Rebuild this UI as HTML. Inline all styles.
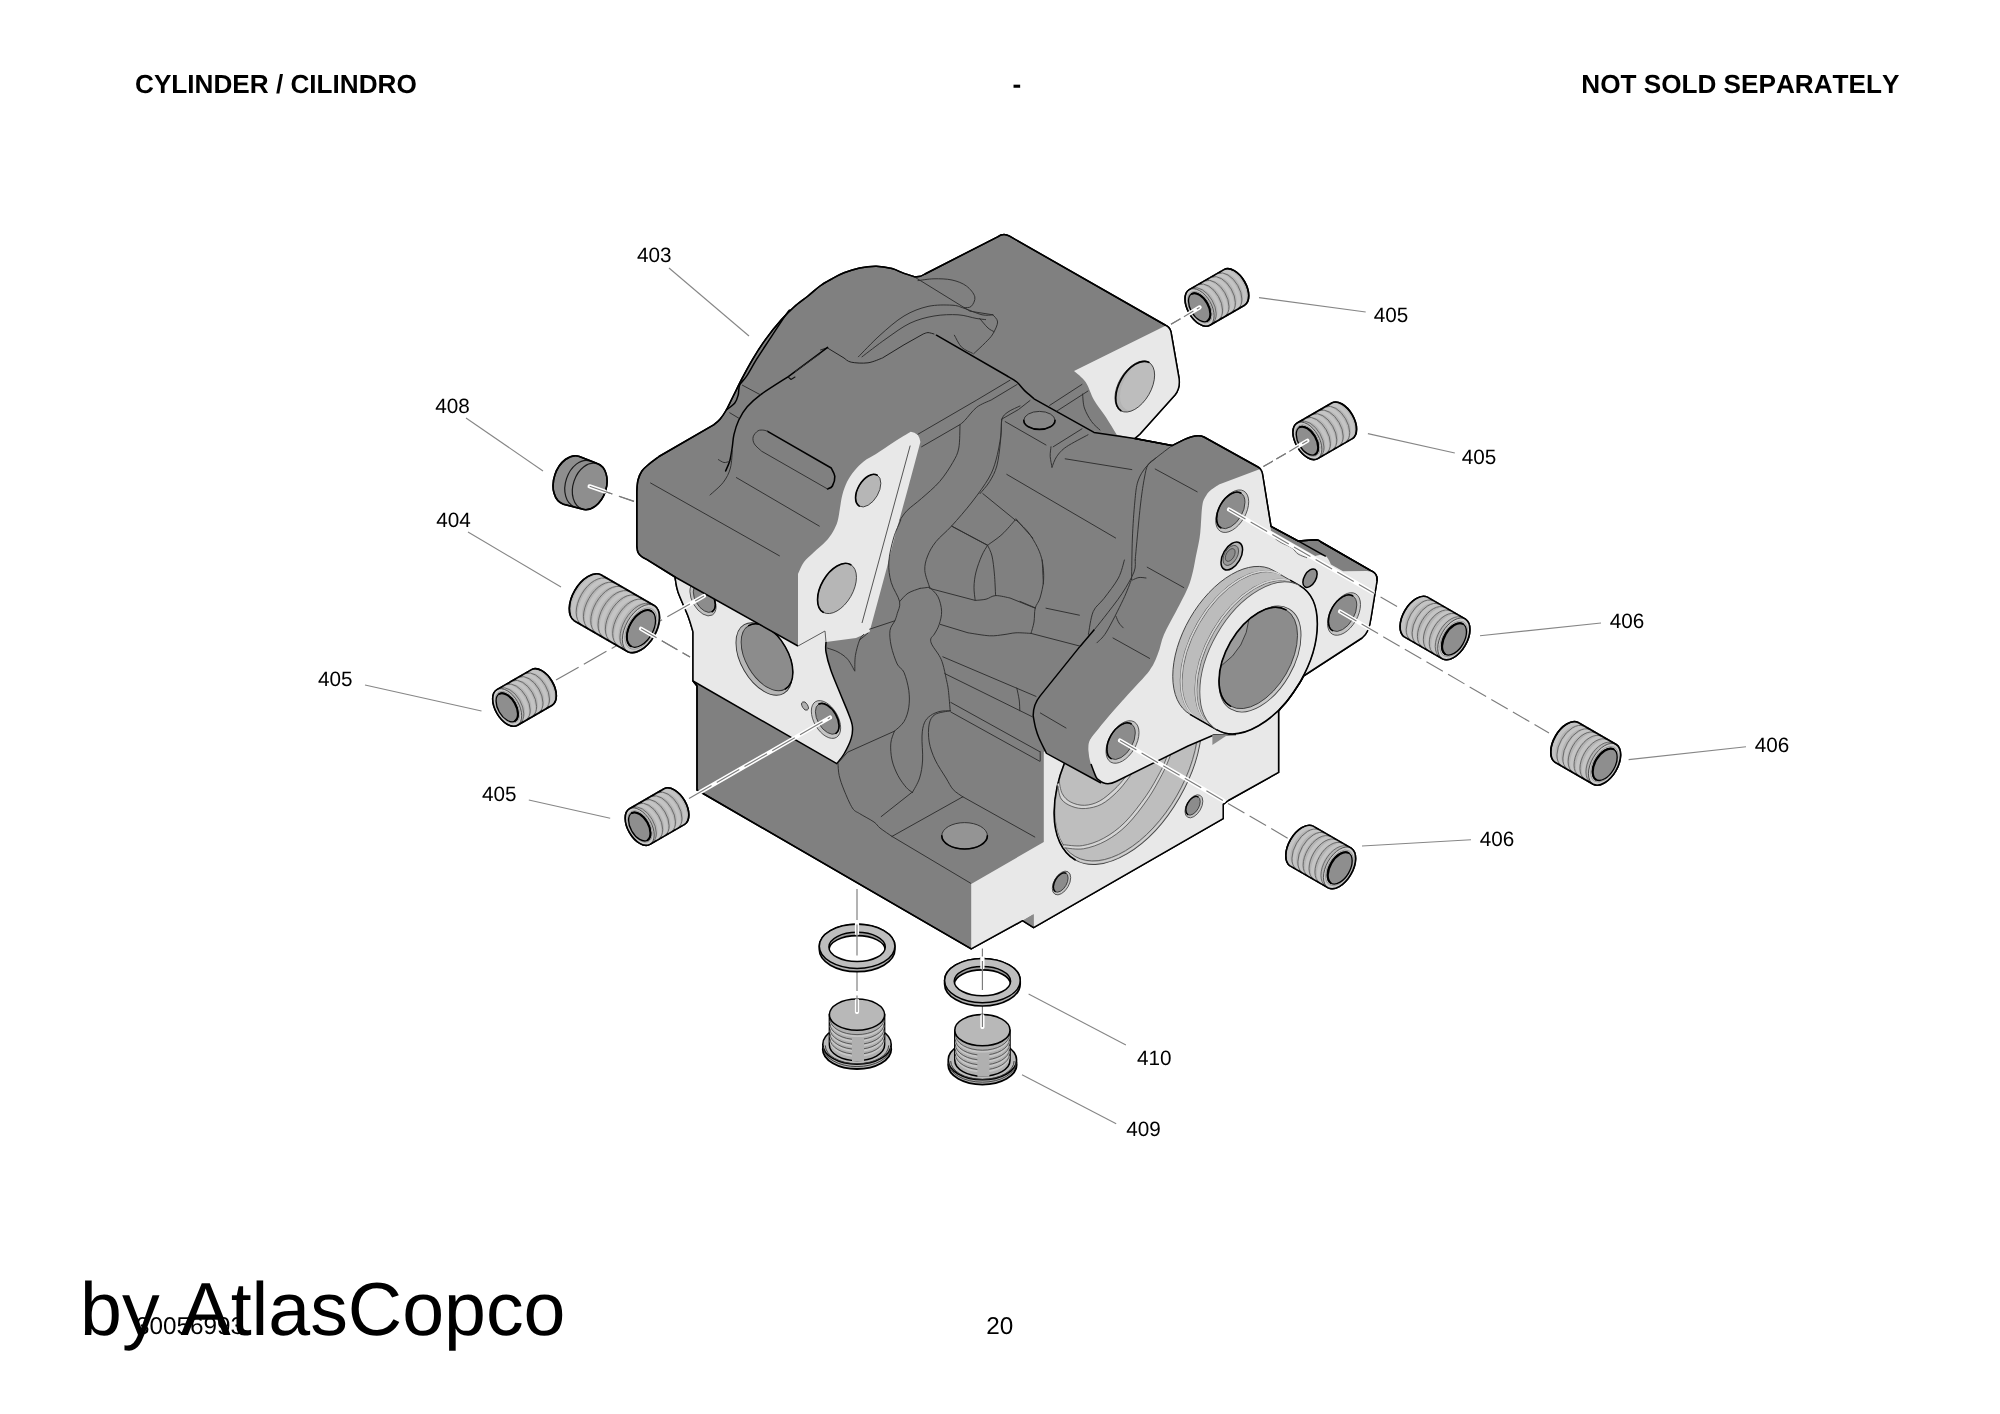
<!DOCTYPE html>
<html lang="en"><head><meta charset="utf-8"><title>CYLINDER / CILINDRO</title>
<style>
html,body{margin:0;padding:0;background:#fff;}
html{filter:grayscale(1);}
body{width:2000px;height:1414px;overflow:hidden;font-family:"Liberation Sans",sans-serif;font-kerning:none;font-feature-settings:"kern" 0;text-rendering:geometricPrecision;}
svg{display:block;position:absolute;left:0;top:0;}
svg text{font-family:"Liberation Sans",sans-serif;font-kerning:none;}
.hd{position:absolute;font-weight:bold;font-size:26.15px;line-height:30px;color:#000;white-space:nowrap;}
.ft{position:absolute;font-size:24.3px;line-height:28px;color:#000;white-space:nowrap;}
.big{position:absolute;font-size:75.3px;line-height:86px;color:#000;white-space:nowrap;}
</style></head><body>
<svg width="2000" height="1414" viewBox="0 0 2000 1414">
<rect width="2000" height="1414" fill="#fff"/>
<path d="M997.6,236.8 Q1003.6,232.6 1009.6,236.2 L1166,325.5 Q1170,327.5 1171,332 L1179,378 Q1180.5,388 1175,395 L1140,434 L1135,438.4 L1172,445.6 L1184,439.6 Q1197,433.5 1204,437 L1258,467 Q1261.5,469 1262.5,474 L1271,526.3 L1298,540.9 L1316,539.8 Q1319,540 1321,542 L1370,570.1 Q1378,573 1377,581 L1371,618 Q1369,633 1362,638 L1303.5,676 C1303,677 1302.9,678 1300.3,682 C1297.7,686 1291.2,695.6 1288.1,699.8 C1285,704 1283.2,705.4 1281.6,707.3 C1280,709.2 1279.1,710.4 1278.6,711 L1278.6,772.4 L1228.3,800.5 L1223.2,804.4 L1223.2,818.6 L1033.6,927.7 L1022.5,920.7 L971.2,948.9 L697,790 L697,686 L693,681 L693,632 C692.2,629.3 690.5,622.7 688,616 C685.5,609.3 680.2,598.5 678,592 C675.8,585.5 675.5,579.5 675,577 L647,559.6 C646.1,559.1 643,557.7 641.5,556.5 C640,555.3 638.8,554.2 638,552.5 C637.2,550.8 637,547.1 636.8,546 L636.8,491.3 C637,489.4 637.1,483.4 638,480 C638.9,476.6 640.2,473.5 641.9,471 C643.6,468.5 645.1,467.4 648,465 C650.9,462.6 657.2,457.9 659,456.5 L713.6,424.8 C714.7,423.9 717.9,421.7 720,419.2 C722.1,416.7 724.2,413.7 726.3,410 C728.4,406.3 730.2,402.1 732.8,397 C735.4,391.9 738.4,385.5 741.7,379.2 C745,372.9 748.7,366 752.6,359.4 C756.5,352.8 760.6,346.2 765.4,339.6 C770.2,333 776.5,325.2 781.3,319.8 C786.1,314.4 789.5,311 794,307 C798.5,303 803.7,299.5 808,296 C812.3,292.5 816,288.9 820,286 C824,283.1 828,281 832,278.8 C836,276.6 839.4,274.6 844,272.8 C848.6,271 854.2,269.1 859.6,268 C865,266.9 871,266.1 876.4,266.2 C881.8,266.3 887.4,267.4 892,268.6 C896.6,269.8 900.4,272.1 904,273.4 C907.6,274.7 912,275.9 913.6,276.4 Q920,277.5 925,274 Z" fill="#808080" stroke="#000" stroke-width="1.5" stroke-linejoin="round"/>
<path d="M1043.8,752 L1043.8,842 L971.2,884 L971.2,948.9 L1022.5,920.7 L1033.6,914.2 L1033.6,927.7 L1223.2,818.6 L1223.2,804.4 L1228.3,800.5 L1278.6,772.4 L1278.6,700 L1100,700 Z" fill="#e8e8e8" stroke="none" stroke-width="0" />
<path d="M1022.5,920.7 L1033.6,914.2 L1033.6,927.7 Z" fill="#8a8a8a" stroke="none" stroke-width="0" />
<clipPath id="cF5"><path d="M1043.8,752 L1043.8,842 L971.2,884 L971.2,948.9 L1022.5,920.7 L1033.6,914.2 L1033.6,927.7 L1223.2,818.6 L1223.2,804.4 L1228.3,800.5 L1278.6,772.4 L1278.6,700 L1100,700 Z"/></clipPath>
<g clip-path="url(#cF5)">
<ellipse cx="1128" cy="768" rx="106" ry="59.4" transform="rotate(-60 1128 768)" fill="#bebebe" stroke="#444" stroke-width="0.9" />
<ellipse cx="1126.6" cy="767.2" rx="103" ry="57.7" transform="rotate(-60 1126.6 767.2)" fill="none" stroke="#555" stroke-width="0.8" />
<ellipse cx="1127.3" cy="767.6" rx="104.5" ry="58.5" transform="rotate(-60 1127.3 767.6)" fill="none" stroke="#d2d2d2" stroke-width="1.2" />
<path d="M1181,676.2 A106,59.4 -60 0 0 1075,859.8" fill="none" stroke="#000" stroke-width="1.6" stroke-linecap="round"/>
<path d="M1058.5,783.5 C1059.1,785.6 1059.6,792.9 1061.8,796.4 C1063.9,799.8 1067.4,802.5 1071.3,804.2 C1075.2,806 1080.2,807.2 1085.1,806.9 C1090,806.6 1095.4,805.4 1100.5,802.7 C1105.5,800.1 1111,795.1 1115.3,791 C1119.7,786.9 1123.3,782.3 1126.5,778.2 C1129.7,774.2 1133.2,768.5 1134.5,766.5" fill="none" stroke="#d4d4d4" stroke-width="2.6" />
<path d="M1059.1,780.9 C1059.6,783 1060.3,790.2 1062.3,793.7 C1064.2,797.2 1067.1,800.2 1070.8,802.1 C1074.5,804 1079.8,805.5 1084.6,805.3 C1089.4,805.1 1094.5,803.8 1099.4,801.1 C1104.4,798.5 1110,793.3 1114.3,789.4 C1118.5,785.5 1121.8,781.6 1124.9,777.7 C1128,773.8 1131.7,768 1133,766" fill="none" stroke="#555" stroke-width="0.85" />
<path d="M1058,786 C1058.5,788.2 1058.9,795.6 1061.2,799 C1063.5,802.4 1067.7,804.8 1071.8,806.4 C1075.9,808 1080.6,808.9 1085.6,808.5 C1090.5,808.1 1096.4,806.9 1101.5,804.3 C1106.6,801.6 1112,796.9 1116.4,792.6 C1120.8,788.4 1124.8,783.1 1128.1,778.8 C1131.4,774.5 1134.7,769 1136,767" fill="none" stroke="#555" stroke-width="0.85" />
<path d="M1063.6,846.2 C1066.8,846.4 1076.1,848.3 1083,847.2 C1089.8,846.1 1097.6,843.5 1104.8,839.5 C1111.9,835.6 1118.9,830.7 1126,823.6 C1133,816.6 1141.3,805.5 1147.2,797.1 C1153,788.7 1157.5,779.9 1161,773.5 C1164.4,767.1 1165.5,764.2 1167.6,758.9 C1169.6,753.7 1172.5,744.8 1173.5,742" fill="none" stroke="#d4d4d4" stroke-width="2.6" />
<path d="M1062.8,844.6 C1066.1,844.8 1075.6,846.7 1082.4,845.6 C1089.2,844.5 1096.6,842.1 1103.7,838.2 C1110.8,834.3 1117.8,829.4 1124.9,822.3 C1132,815.2 1140.3,804.1 1146.1,795.8 C1151.9,787.5 1156.6,778.6 1159.9,772.4 C1163.2,766.2 1164.2,763.7 1166.2,758.6 C1168.2,753.5 1171,744.8 1172,742" fill="none" stroke="#555" stroke-width="0.85" />
<path d="M1064.4,847.8 C1067.6,848 1076.6,849.9 1083.5,848.8 C1090.4,847.6 1098.5,844.9 1105.8,840.9 C1113,836.9 1119.9,832.1 1127,825 C1134.1,817.9 1142.4,806.8 1148.2,798.4 C1154,790 1158.5,781.1 1162,774.6 C1165.5,768.1 1166.7,764.6 1168.9,759.2 C1171.1,753.8 1174,744.9 1175,742" fill="none" stroke="#555" stroke-width="0.85" />
</g>
<ellipse cx="1193.9" cy="806.3" rx="12.6" ry="7.3" transform="rotate(-60 1193.9 806.3)" fill="#c4c4c4" stroke="#444" stroke-width="0.8" />
<ellipse cx="1192.9" cy="805.7" rx="10.3" ry="6" transform="rotate(-60 1192.9 805.7)" fill="#8c8c8c" stroke="#333" stroke-width="0.8" />
<path d="M1198,796.8 A10.3,6 -60 0 0 1187.7,814.6" fill="none" stroke="#000" stroke-width="1.3" stroke-linecap="round"/>
<ellipse cx="1061.5" cy="883" rx="13" ry="7.5" transform="rotate(-60 1061.5 883)" fill="#c4c4c4" stroke="#444" stroke-width="0.8" />
<ellipse cx="1060.5" cy="882.4" rx="10.7" ry="6.2" transform="rotate(-60 1060.5 882.4)" fill="#8c8c8c" stroke="#333" stroke-width="0.8" />
<path d="M1065.8,873.2 A10.7,6.2 -60 0 0 1055.1,891.6" fill="none" stroke="#000" stroke-width="1.3" stroke-linecap="round"/>
<path d="M1094.4,629.6 L1080,646.4 L1040.4,695.6 Q1033,704.5 1033.2,716 C1033.6,718 1034.6,724.3 1035.6,728 C1036.6,731.7 1037.2,733.8 1039,738 C1040.8,742.2 1045.2,750.8 1046.4,753.3 L1101,783 L1103,784 L1096,777 L1091,764 L1088.5,750 L1090,740 L1099.2,728 L1111.2,713.6 L1128,694.4 L1149.6,670.4 L1158,653.6 L1164,634.4 L1176,611.6 Z" fill="#808080" stroke="none" stroke-width="1.0" />
<path d="M1094.4,629.6 L1080,646.4 L1040.4,695.6 Q1033,704.5 1033.2,716 C1033.6,718 1034.6,724.3 1035.6,728 C1036.6,731.7 1037.2,733.8 1039,738 C1040.8,742.2 1045.2,750.8 1046.4,753.3 L1101,783" fill="none" stroke="#000" stroke-width="1.5" />
<path d="M1261.5,468.5 L1263,480 L1271,530.8 L1315.3,555.9 C1316.1,555.8 1318.2,554.9 1320,555 C1321.8,555.1 1324.3,555.5 1325.8,556.3 C1327.3,557.1 1327.9,558.6 1328.8,560 C1329.7,561.4 1330.6,563.8 1331,564.5 L1343,571.3 L1367,570.9 Q1377.5,571.5 1377,581 L1371,618 Q1369,633 1362,638 L1304,676 L1262,722 L1213.8,735 L1188,746 L1116,781.5 Q1106,786.5 1099,780 C1097.7,777.3 1092.8,769 1091,764 C1089.2,759 1088.7,754 1088.5,750 C1088.3,746 1088.2,743.7 1090,740 C1091.8,736.3 1095.7,732.4 1099.2,728 C1102.7,723.6 1106.4,719.2 1111.2,713.6 C1116,708 1121.6,701.6 1128,694.4 C1134.4,687.2 1144.6,677.2 1149.6,670.4 C1154.6,663.6 1155.6,659.6 1158,653.6 C1160.4,647.6 1161,641.4 1164,634.4 C1167,627.4 1172,619.4 1176,611.6 C1180,603.8 1185.2,594.2 1188,587.6 C1190.8,581 1191.6,576.6 1192.8,572 C1194,567.4 1194.1,565.7 1195.2,560 C1196.3,554.3 1198.7,543.7 1199.6,538 C1200.5,532.3 1200.3,531.6 1200.8,526 C1201.3,520.4 1201.5,509.6 1202.5,504.4 C1203.5,499.2 1205,497.5 1206.5,495 C1208,492.5 1209.4,491.3 1211.5,489.5 C1213.6,487.7 1217.8,485.2 1219,484.4 L1219,484.4 Z" fill="#e8e8e8" stroke="none" stroke-width="0" />
<path d="M1091,764 C1091.8,766.2 1094.7,774.3 1096,777 C1097.3,779.7 1098.5,779.5 1099,780 Q1106,786.5 1116,781.5 L1188,746 L1213.8,735 L1236,734.5" fill="none" stroke="#000" stroke-width="1.5" stroke-linejoin="round"/>
<path d="M1212.4,735 L1229,734 L1212.4,745 Z" fill="#8c8c8c" stroke="none" stroke-width="0" />
<path d="M1271,526.3 L1298,540.9 L1316,539.8 Q1319,540 1321,542 L1370,570.1 Q1378,573 1377,581" fill="none" stroke="#000" stroke-width="1.5" />
<path d="M1298,540.9 L1325.8,556.3" fill="none" stroke="#000" stroke-width="1.5" />
<path d="M1275.5,539 C1276.5,539.6 1278.8,541.3 1281.5,542.8 C1284.2,544.3 1289.2,546.1 1292,548 C1294.8,549.9 1295.5,552.4 1298,554 C1300.5,555.6 1305.5,557.2 1307,557.8" fill="none" stroke="#666" stroke-width="1" />
<ellipse cx="1232.2" cy="511.2" rx="23.3" ry="13.5" transform="rotate(-60 1232.2 511.2)" fill="#c4c4c4" stroke="#444" stroke-width="0.8" />
<ellipse cx="1230.8" cy="510.4" rx="20" ry="11.6" transform="rotate(-60 1230.8 510.4)" fill="#8c8c8c" stroke="#333" stroke-width="0.8" />
<path d="M1240.8,493 A20,11.6 -60 0 0 1220.8,527.8" fill="none" stroke="#000" stroke-width="1.6" stroke-linecap="round"/>
<ellipse cx="1344" cy="614" rx="23.3" ry="13.5" transform="rotate(-60 1344 614)" fill="#c4c4c4" stroke="#444" stroke-width="0.8" />
<ellipse cx="1342.6" cy="613.2" rx="20" ry="11.6" transform="rotate(-60 1342.6 613.2)" fill="#8c8c8c" stroke="#333" stroke-width="0.8" />
<path d="M1352.6,595.8 A20,11.6 -60 0 0 1332.6,630.6" fill="none" stroke="#000" stroke-width="1.6" stroke-linecap="round"/>
<ellipse cx="1122.5" cy="742" rx="23.3" ry="13.5" transform="rotate(-60 1122.5 742)" fill="#c4c4c4" stroke="#444" stroke-width="0.8" />
<ellipse cx="1121.1" cy="741.2" rx="20" ry="11.6" transform="rotate(-60 1121.1 741.2)" fill="#8c8c8c" stroke="#333" stroke-width="0.8" />
<path d="M1131.1,723.8 A20,11.6 -60 0 0 1111.1,758.6" fill="none" stroke="#000" stroke-width="1.6" stroke-linecap="round"/>
<ellipse cx="1231.8" cy="556" rx="15.3" ry="8.8" transform="rotate(-60 1231.8 556)" fill="#b4b4b4" stroke="#000" stroke-width="1.5" />
<ellipse cx="1230.8" cy="555.4" rx="11" ry="6.4" transform="rotate(-60 1230.8 555.4)" fill="#9a9a9a" stroke="#444" stroke-width="0.8" />
<ellipse cx="1230.2" cy="555" rx="7" ry="4" transform="rotate(-60 1230.2 555)" fill="#8c8c8c" stroke="#444" stroke-width="0.8" />
<ellipse cx="1310" cy="578.2" rx="10.1" ry="5.8" transform="rotate(-60 1310 578.2)" fill="#8e8e8e" stroke="#000" stroke-width="1.5" />
<path d="M1300.1,585.9 L1273.1,570.3 A83.1,48 -60 0 0 1190,714.3 L1217,729.9 Z" fill="#bcbcbc" stroke="#444" stroke-width="1" />
<path d="M1279.8,574.2 A83.1,48 -60 0 0 1196.7,718.1" fill="none" stroke="#555" stroke-width="0.8" />
<path d="M1281.5,575.2 A83.1,48 -60 0 0 1198.4,719.1" fill="none" stroke="#555" stroke-width="0.8" />
<path d="M1294.5,582.7 A83.1,48 -60 0 0 1211.4,726.6" fill="none" stroke="#555" stroke-width="0.8" />
<path d="M1296.3,583.7 A83.1,48 -60 0 0 1213.2,727.6" fill="none" stroke="#555" stroke-width="0.8" />
<path d="M1280.7,574.7 A83.1,48 -60 0 0 1197.6,718.6" fill="none" stroke="#d4d4d4" stroke-width="1.4" />
<path d="M1295.4,583.2 A83.1,48 -60 0 0 1212.3,727.1" fill="none" stroke="#d4d4d4" stroke-width="1.4" />
<path d="M1190,714.3 L1217,729.9" fill="none" stroke="#000" stroke-width="1.5" />
<path d="M1290.1,580.1 L1300.1,585.9" fill="none" stroke="#000" stroke-width="1.5" />
<ellipse cx="1258.6" cy="657.9" rx="83.1" ry="48" transform="rotate(-60 1258.6 657.9)" fill="#e8e8e8" stroke="#555" stroke-width="0.9" />
<path d="M1300.1,585.9 A83.1,48 -60 0 1 1217,729.9" fill="none" stroke="#000" stroke-width="1.6" stroke-linecap="round"/>
<ellipse cx="1260" cy="659" rx="58" ry="33.5" transform="rotate(-60 1260 659)" fill="#c8c8c8" stroke="#444" stroke-width="0.9" />
<clipPath id="cbore"><ellipse cx="1258.3" cy="658" rx="55.5" ry="32" transform="rotate(-60 1258.3 658)"/></clipPath>
<ellipse cx="1258.3" cy="658" rx="55.5" ry="32" transform="rotate(-60 1258.3 658)" fill="#8c8c8c" stroke="#333" stroke-width="0.8" />
<g clip-path="url(#cbore)">
<path d="M1249.1,618.6 Q1245.9,648 1221.9,665.3 L1190,665 L1190,590 L1249,590 Z" fill="#9c9c9c" stroke="#333" stroke-width="0.9" />
</g>
<path d="M1286,609.9 A55.5,32 -60 0 0 1230.5,706.1" fill="none" stroke="#000" stroke-width="1.6" stroke-linecap="round"/>
<path d="M1074,371 L1166,325.5 Q1170,327.5 1171,332 L1179,378 Q1180.5,388 1175,395 L1140,434 L1135,438.4 L1116.8,434.8 C1114.8,431.6 1108.6,421.4 1104.8,415.6 C1101,409.8 1097.2,405.6 1094,400 C1090.8,394.4 1088.9,386.8 1085.6,382 C1082.3,377.2 1075.9,372.8 1074,371 Z" fill="#e8e8e8" stroke="none" stroke-width="0" />
<ellipse cx="1134.8" cy="386.5" rx="28" ry="16.2" transform="rotate(-60 1134.8 386.5)" fill="#b4b4b4" stroke="none" stroke-width="0" />
<clipPath id="cF1h"><ellipse cx="1134.8" cy="386.5" rx="28" ry="16.2" transform="rotate(-60 1134.8 386.5)"/></clipPath>
<g clip-path="url(#cF1h)">
<ellipse cx="1139.8" cy="385" rx="28" ry="16.2" transform="rotate(-60 1139.8 385)" fill="#bdbdbd" stroke="none" stroke-width="0" />
</g>
<ellipse cx="1134.8" cy="386.5" rx="28" ry="16.2" transform="rotate(-60 1134.8 386.5)" fill="none" stroke="#333" stroke-width="0.8" />
<path d="M1148.8,362.3 A28,16.2 -60 0 0 1120.8,410.7" fill="none" stroke="#000" stroke-width="1.6" stroke-linecap="round"/>
<path d="M675,577 C675.5,579.5 675.8,585.5 678,592 C680.2,598.5 685.5,609.3 688,616 C690.5,622.7 692.2,629.3 693,632 L693,681 L836.8,763.6 C838,762 841.6,758.2 844,754 C846.4,749.8 849.8,743 851.2,738.4 C852.6,733.8 852.8,730.4 852.4,726.4 C852,722.4 850.8,719.8 848.8,714.4 C846.8,709 843.4,701.4 840.4,694 C837.4,686.6 833.2,677 830.8,670 C828.4,663 826.8,656.7 826,652 C825.2,647.3 826,643.7 826,642 L825,631 L798,646 Z" fill="#e8e8e8" stroke="none" stroke-width="0" />
<clipPath id="cF3"><path d="M675,577 C675.5,579.5 675.8,585.5 678,592 C680.2,598.5 685.5,609.3 688,616 C690.5,622.7 692.2,629.3 693,632 L693,681 L836.8,763.6 C838,762 841.6,758.2 844,754 C846.4,749.8 849.8,743 851.2,738.4 C852.6,733.8 852.8,730.4 852.4,726.4 C852,722.4 850.8,719.8 848.8,714.4 C846.8,709 843.4,701.4 840.4,694 C837.4,686.6 833.2,677 830.8,670 C828.4,663 826.8,656.7 826,652 C825.2,647.3 826,643.7 826,642 L825,631 L798,646 Z"/></clipPath>
<g clip-path="url(#cF3)">
<ellipse cx="703" cy="599" rx="18.5" ry="10.7" transform="rotate(60 703 599)" fill="#c0c0c0" stroke="#444" stroke-width="0.8" />
<ellipse cx="704.3" cy="598.2" rx="15.5" ry="9" transform="rotate(60 704.3 598.2)" fill="#8c8c8c" stroke="#333" stroke-width="0.8" />
<path d="M712.1,611.7 A15.5,9 60 0 0 696.5,584.8" fill="none" stroke="#000" stroke-width="1.6" stroke-linecap="round"/>
<ellipse cx="764" cy="659" rx="39.6" ry="22.9" transform="rotate(60 764 659)" fill="#b6b6b6" stroke="#333" stroke-width="0.9" />
<ellipse cx="767" cy="657.3" rx="36.6" ry="21.1" transform="rotate(60 767 657.3)" fill="#8c8c8c" stroke="#333" stroke-width="0.9" />
<path d="M785.3,689 A36.6,21.1 60 0 0 748.7,625.6" fill="none" stroke="#000" stroke-width="1.5" stroke-linecap="round"/>
</g>
<path d="M826,642 C826,643.7 825.2,647.3 826,652 C826.8,656.7 828.4,663 830.8,670 C833.2,677 837.4,686.6 840.4,694 C843.4,701.4 846.8,709 848.8,714.4 C850.8,719.8 852,722.4 852.4,726.4 C852.8,730.4 852.6,733.8 851.2,738.4 C849.8,743 846.4,749.8 844,754 C841.6,758.2 838,762 836.8,763.6 L693,681" fill="none" stroke="#000" stroke-width="1.5" stroke-linejoin="round"/>
<path d="M675,577 L798,646" fill="none" stroke="#000" stroke-width="1.5" />
<ellipse cx="826" cy="719.5" rx="20.7" ry="12" transform="rotate(60 826 719.5)" fill="#c4c4c4" stroke="#444" stroke-width="0.8" />
<ellipse cx="827.4" cy="718.7" rx="17" ry="9.8" transform="rotate(60 827.4 718.7)" fill="#8c8c8c" stroke="#333" stroke-width="0.8" />
<path d="M835.9,733.4 A17,9.8 60 0 0 818.9,704" fill="none" stroke="#000" stroke-width="1.6" stroke-linecap="round"/>
<ellipse cx="805" cy="706" rx="4.6" ry="2.7" transform="rotate(60 805 706)" fill="#b0b0b0" stroke="#333" stroke-width="0.8" />
<path d="M910.8,431.8 Q919,432.5 920.4,442 L915.6,460 L907.2,491.2 L900,517.6 L892.8,544 L886.8,568 L869.5,632 L856,638 L826,642 L825,631 L798,646 L798,574 C799,572 801.4,565.6 804,562 C806.6,558.4 810,555.8 813.6,552.4 C817.2,549 822.4,545 825.6,541.6 C828.8,538.2 830.8,535.4 832.8,532 C834.8,528.6 836.4,525.2 837.6,521.2 C838.8,517.2 839.2,512.4 840,508 C840.8,503.6 841.2,499.2 842.4,494.8 C843.6,490.4 845.2,485.6 847.2,481.6 C849.2,477.6 851.6,474.2 854.4,470.8 C857.2,467.4 860.4,464 864,461.2 C867.6,458.4 871,457.2 876,454 C881,450.8 888.2,445.7 894,442 C899.8,438.3 908,433.5 910.8,431.8 Z" fill="#e8e8e8" stroke="none" stroke-width="0" />
<path d="M910.2,445.6 L862,623" fill="none" stroke="#444" stroke-width="0.9" />
<ellipse cx="868.2" cy="490.6" rx="17.9" ry="10.3" transform="rotate(-60 868.2 490.6)" fill="#b6b6b6" stroke="#333" stroke-width="0.8" />
<path d="M877.2,475.1 A17.9,10.3 -60 0 0 859.2,506.1" fill="none" stroke="#000" stroke-width="1.6" stroke-linecap="round"/>
<ellipse cx="837" cy="588.5" rx="27.5" ry="15.9" transform="rotate(-60 837 588.5)" fill="#b6b6b6" stroke="#333" stroke-width="0.8" />
<path d="M850.8,564.7 A27.5,15.9 -60 0 0 823.2,612.3" fill="none" stroke="#000" stroke-width="1.6" stroke-linecap="round"/>
<path d="M798,646 L825,631 L826,642" fill="none" stroke="#555" stroke-width="0.9" />
<ellipse cx="964.6" cy="835.8" rx="22.8" ry="13.2" transform="rotate(0 964.6 835.8)" fill="#949494" stroke="#2a2a2a" stroke-width="0.9" />
<path d="M987.4,835.8 A22.8,13.2 0 0 1 941.8,835.8" fill="none" stroke="#000" stroke-width="1.6" stroke-linecap="round"/>
<ellipse cx="1039.4" cy="420.4" rx="15.6" ry="9" transform="rotate(0 1039.4 420.4)" fill="#868686" stroke="#2a2a2a" stroke-width="0.9" />
<path d="M1055,420.4 A15.6,9 0 0 1 1023.8,420.4" fill="none" stroke="#000" stroke-width="1.6" stroke-linecap="round"/>
<path d="M820.5,350 L827.2,347.8 L844,358 C845.2,358.7 847.2,361.4 851.2,362.2 C855.2,363 862.8,363.5 868,362.8 C873.2,362.1 880,358.8 882.4,358 L904,344.8 L923.2,334 C924,333.8 926.2,332.6 928,332.6 C929.8,332.6 933,333.8 934,334" fill="none" stroke="#222" stroke-width="1.0" stroke-linecap="round" stroke-linejoin="round"/>
<path d="M936.4,335.2 L1007.2,376 C1008.8,377 1013.9,379.6 1016.8,382 C1019.7,384.4 1021.5,387.6 1024.4,390.4 C1027.3,393.2 1032.4,397.4 1034,398.8 L1094,432.4 L1134.8,438.4 L1172,445.6" fill="none" stroke="#000" stroke-width="1.5" stroke-linecap="round" stroke-linejoin="round"/>
<path d="M827.6,347.4 L788,376.8 C783.4,379.8 767.2,389.8 760.4,394.8 C753.6,399.8 750.8,402.6 747.2,406.8 C743.6,411 741,415.4 738.8,420 C736.6,424.6 735.1,429.8 734,434.4 C732.9,439 732.9,443.2 732.2,447.6 C731.5,452 730.9,456.9 729.8,460.8 C728.7,464.7 726.3,469.3 725.6,471" fill="none" stroke="#000" stroke-width="1.5" stroke-linecap="round" stroke-linejoin="round"/>
<path d="M732.5,449 C732.1,452.2 731.9,462.4 730.4,468 C728.9,473.6 726.6,477.9 723.2,482.4 C719.8,486.9 712.2,492.9 710,495" fill="none" stroke="#2e2e2e" stroke-width="0.95" stroke-linecap="round" stroke-linejoin="round"/>
<path d="M788,376.8 L791,379.5 L795,377" fill="none" stroke="#111" stroke-width="1.1" stroke-linecap="round" stroke-linejoin="round"/>
<path d="M790,310.5 C789.5,310.9 790.6,308 787.2,312.9 C783.8,317.8 774.5,331.9 769.4,339.6 C764.3,347.4 760.3,353.3 756.5,359.4 C752.7,365.5 749.4,371.9 746.6,376.2 C743.8,380.5 741.1,381.9 739.7,385 C738.3,388.1 739,392 738.2,395 C737.4,398 736.8,400.5 734.8,403 C732.8,405.5 727.7,408.8 726.3,410" fill="none" stroke="#000" stroke-width="1.5" stroke-linecap="round" stroke-linejoin="round"/>
<path d="M742.4,385.2 L760.4,394.8" fill="none" stroke="#2e2e2e" stroke-width="0.95" stroke-linecap="round" stroke-linejoin="round"/>
<path d="M729.8,412.8 L738.8,418.2" fill="none" stroke="#2e2e2e" stroke-width="0.95" stroke-linecap="round" stroke-linejoin="round"/>
<path d="M718.4,459.6 C719.3,460.1 722.2,462.2 724,462.5 C725.8,462.8 728.2,461.7 729,461.5" fill="none" stroke="#2e2e2e" stroke-width="0.95" stroke-linecap="round" stroke-linejoin="round"/>
<path d="M795.2,371.4 L819.8,354" fill="none" stroke="#2e2e2e" stroke-width="0.95" stroke-linecap="round" stroke-linejoin="round"/>
<path d="M650.6,483 L779.4,555.8" fill="none" stroke="#2e2e2e" stroke-width="0.95" stroke-linecap="round" stroke-linejoin="round"/>
<path d="M736.4,477.6 L819.3,526.1" fill="none" stroke="#2e2e2e" stroke-width="0.95" stroke-linecap="round" stroke-linejoin="round"/>
<path d="M767.6,431.4 L831.2,468 C831.8,469.4 834.6,473.4 834.8,476.4 C835,479.4 833.6,483.9 832.4,486 C831.2,488.1 828.4,488.5 827.6,489" fill="none" stroke="#000" stroke-width="1.6" stroke-linecap="round" stroke-linejoin="round"/>
<path d="M827.6,489 L761.6,451.2 C760.4,450 755.8,446.4 754.4,444 C753,441.6 752.6,439 753.2,436.8 C753.8,434.6 756.2,431.9 758,430.8 C759.8,429.7 762.4,430.1 764,430.2 C765.6,430.3 767,431.2 767.6,431.4" fill="none" stroke="#2e2e2e" stroke-width="0.95" stroke-linecap="round" stroke-linejoin="round"/>
<path d="M913.6,276.4 L970,311.2 L992.8,314.8" fill="none" stroke="#2e2e2e" stroke-width="0.95" stroke-linecap="round" stroke-linejoin="round"/>
<path d="M918,280.6 C920.7,280.3 928.3,278.9 934,278.8 C939.7,278.7 946.6,278.8 952,280 C957.4,281.2 962.6,283.2 966.4,286 C970.2,288.8 974,293.4 974.8,296.8 C975.6,300.2 973,304.6 971.2,306.4 C969.4,308.2 965.2,307.4 964,307.6" fill="none" stroke="#2e2e2e" stroke-width="0.95" stroke-linecap="round" stroke-linejoin="round"/>
<path d="M858.4,356.8 C862,353.2 872.4,342 880,335.2 C887.6,328.4 896,320.8 904,316 C912,311.2 920,308.2 928,306.4 C936,304.6 946,304.9 952,305.2 C958,305.5 959,306.6 964,308.2 C969,309.8 977.2,313.7 982,314.8 C986.8,315.9 991,314.8 992.8,314.8" fill="none" stroke="#2e2e2e" stroke-width="0.95" stroke-linecap="round" stroke-linejoin="round"/>
<path d="M862,356.8 C866,353.8 878,344.4 886,338.8 C894,333.2 902,327 910,323.2 C918,319.4 926,317.4 934,316 C942,314.6 951,314.4 958,314.8 C965,315.2 971.4,317.6 976,318.4 C980.6,319.2 984,319.4 985.6,319.6" fill="none" stroke="#2e2e2e" stroke-width="0.95" stroke-linecap="round" stroke-linejoin="round"/>
<path d="M992.8,314.8 C993.6,316 997.6,318.8 997.6,322 C997.6,325.2 994.8,330.6 992.8,334 C990.8,337.4 988.8,339.1 985.6,342.4 C982.4,345.7 975.6,351.9 973.6,353.8" fill="none" stroke="#2e2e2e" stroke-width="0.95" stroke-linecap="round" stroke-linejoin="round"/>
<path d="M954.4,335.2 C955.6,337.2 958.6,344.2 961.6,347.2 C964.6,350.2 970.6,352.2 972.4,353.2" fill="none" stroke="#2e2e2e" stroke-width="0.95" stroke-linecap="round" stroke-linejoin="round"/>
<path d="M979.6,318.4 C981,320 985.6,325.8 988,328 C990.4,330.2 993,331 994,331.6" fill="none" stroke="#2e2e2e" stroke-width="0.95" stroke-linecap="round" stroke-linejoin="round"/>
<path d="M918,434.2 L976.8,400 L1010,380.2" fill="none" stroke="#2e2e2e" stroke-width="0.95" stroke-linecap="round" stroke-linejoin="round"/>
<path d="M921.6,446.8 L960,424.6 C960.8,423.9 962,423.3 964.8,420.4 C967.6,417.5 972.4,410.6 976.8,407.2 C981.2,403.8 988.8,401.2 991.2,400 L1017.2,384.4" fill="none" stroke="#2e2e2e" stroke-width="0.95" stroke-linecap="round" stroke-linejoin="round"/>
<path d="M960,424.6 C959.8,428.5 960,441.7 958.8,448 C957.6,454.3 956,456.8 952.8,462.4 C949.6,468 944.8,475.6 939.6,481.6 C934.4,487.6 927,493.6 921.6,498.4 C916.2,503.2 910.8,506.8 907.2,510.4 C903.6,514 901.2,518.4 900,520" fill="none" stroke="#2e2e2e" stroke-width="0.95" stroke-linecap="round" stroke-linejoin="round"/>
<path d="M1020,406 C1018,407 1011,409.8 1008,412 C1005,414.2 1003.2,415.2 1002,419.2 C1000.8,423.2 1001.8,429.2 1000.8,436 C999.8,442.8 998,453 996,460 C994,467 992.8,471 988.8,478 C984.8,485 978.2,494 972,502 C965.8,510 957.6,519.4 951.6,526 C945.6,532.6 940,536.6 936,541.6 C932,546.6 929.5,551.2 927.6,556 C925.7,560.8 924.5,565.2 924.8,570.4 C925.1,575.6 928.8,584.4 929.6,587.2" fill="none" stroke="#2e2e2e" stroke-width="0.95" stroke-linecap="round" stroke-linejoin="round"/>
<path d="M1001.6,419.2 L1018.4,409.6 L1030,400.5" fill="none" stroke="#2e2e2e" stroke-width="0.95" stroke-linecap="round" stroke-linejoin="round"/>
<path d="M1005.2,421.6 L1046,445" fill="none" stroke="#2e2e2e" stroke-width="0.95" stroke-linecap="round" stroke-linejoin="round"/>
<path d="M1001.6,419.2 C1001.4,423 1001.2,434.2 1000.4,442 C999.6,449.8 998.6,459.4 996.8,466 C995,472.6 992.4,477 989.6,481.6 C986.8,486.2 981.6,491.6 980,493.6" fill="none" stroke="#2e2e2e" stroke-width="0.95" stroke-linecap="round" stroke-linejoin="round"/>
<path d="M1006.8,474.4 L1115.6,538" fill="none" stroke="#2e2e2e" stroke-width="0.95" stroke-linecap="round" stroke-linejoin="round"/>
<path d="M982.8,493.6 L1015.2,520 C1013,522.4 1006.6,530.2 1002,534.4 C997.4,538.6 990,543.4 987.6,545.2" fill="none" stroke="#2e2e2e" stroke-width="0.95" stroke-linecap="round" stroke-linejoin="round"/>
<path d="M951.6,526 L987.6,545.2 C986.6,547 983.5,551.5 981.6,556 C979.7,560.5 977.3,566.8 976,572 C974.7,577.2 974.1,582.5 974,587.2 C973.9,591.9 975,598.2 975.2,600.4" fill="none" stroke="#2e2e2e" stroke-width="0.95" stroke-linecap="round" stroke-linejoin="round"/>
<path d="M987.6,545.2 C988.3,547 990.9,551.2 992,556 C993.1,560.8 993.8,567.4 994.4,574 C995,580.6 995.4,592 995.6,595.6" fill="none" stroke="#2e2e2e" stroke-width="0.95" stroke-linecap="round" stroke-linejoin="round"/>
<path d="M1015.2,520 L1016,520 C1018,522 1024.4,527.4 1028,532 C1031.6,536.6 1035.2,542.6 1037.6,547.6 C1040,552.6 1041.4,556.6 1042.4,562 C1043.4,567.4 1044,574 1043.6,580 C1043.2,586 1041.4,593.3 1040,598 C1038.6,602.7 1036.2,604.2 1035.2,608.2 C1034.2,612.2 1034.7,617.8 1034,622 C1033.3,626.2 1031.5,631.5 1031,633.4" fill="none" stroke="#2e2e2e" stroke-width="0.95" stroke-linecap="round" stroke-linejoin="round"/>
<path d="M1016,518.8 C1017,520 1019.2,522.8 1022,526 C1024.8,529.2 1031,536 1032.8,538" fill="none" stroke="#2e2e2e" stroke-width="0.95" stroke-linecap="round" stroke-linejoin="round"/>
<path d="M1049.6,405.4 L1082,384.4" fill="none" stroke="#2e2e2e" stroke-width="0.95" stroke-linecap="round" stroke-linejoin="round"/>
<path d="M1057,411 L1088,391" fill="none" stroke="#2e2e2e" stroke-width="0.95" stroke-linecap="round" stroke-linejoin="round"/>
<path d="M1082.6,394 C1082.9,396.3 1082.9,403.4 1084.4,408 C1085.9,412.6 1089,417.9 1091.6,421.6 C1094.2,425.3 1098.6,428.6 1100,430" fill="none" stroke="#2e2e2e" stroke-width="0.95" stroke-linecap="round" stroke-linejoin="round"/>
<path d="M1053.2,446.8 L1082,428.8" fill="none" stroke="#2e2e2e" stroke-width="0.95" stroke-linecap="round" stroke-linejoin="round"/>
<path d="M1051,446.8 C1050.9,448.4 1050,453 1050.2,456.4 C1050.4,459.8 1051.7,465.4 1052,467.2" fill="none" stroke="#2e2e2e" stroke-width="0.95" stroke-linecap="round" stroke-linejoin="round"/>
<path d="M1052,467.2 C1052.8,465.4 1054.4,459.8 1056.8,456.4 C1059.2,453 1061.2,450.4 1066.4,446.8 C1071.6,443.2 1084.4,436.8 1088,434.8" fill="none" stroke="#2e2e2e" stroke-width="0.95" stroke-linecap="round" stroke-linejoin="round"/>
<path d="M1065.2,458.8 L1131.8,469.6" fill="none" stroke="#2e2e2e" stroke-width="0.95" stroke-linecap="round" stroke-linejoin="round"/>
<path d="M1155.2,469 L1197.2,491.8" fill="none" stroke="#2e2e2e" stroke-width="0.95" stroke-linecap="round" stroke-linejoin="round"/>
<path d="M1172,445.6 C1169.4,447.6 1160.4,454.4 1156.4,457.6 C1152.4,460.8 1150,461.4 1148,464.8 C1146,468.2 1145.6,471.8 1144.4,478 C1143.2,484.2 1142,492 1140.8,502 C1139.6,512 1138.1,528.3 1137.2,538 C1136.3,547.7 1135.5,556.3 1135.2,560" fill="none" stroke="#2e2e2e" stroke-width="0.95" stroke-linecap="round" stroke-linejoin="round"/>
<path d="M1156.4,457.6 C1154.7,459.2 1149.1,463.1 1146,467 C1142.9,470.9 1139.9,475.2 1138,481 C1136.1,486.8 1135.7,492.5 1134.8,502 C1133.9,511.5 1132.9,525.1 1132.4,538 C1131.9,550.9 1131.7,572.3 1131.6,579.2" fill="none" stroke="#2e2e2e" stroke-width="0.95" stroke-linecap="round" stroke-linejoin="round"/>
<path d="M1147.2,567.2 L1183.8,587.6" fill="none" stroke="#2e2e2e" stroke-width="0.95" stroke-linecap="round" stroke-linejoin="round"/>
<path d="M1113,638 L1149.6,658.4" fill="none" stroke="#2e2e2e" stroke-width="0.95" stroke-linecap="round" stroke-linejoin="round"/>
<path d="M1040.4,713 L1066,728" fill="none" stroke="#2e2e2e" stroke-width="0.95" stroke-linecap="round" stroke-linejoin="round"/>
<path d="M1135.2,560 C1135,562 1136.2,566.4 1134,572 C1131.8,577.6 1127,586 1122,593.6 C1117,601.2 1108.6,611.6 1104,617.6 C1099.4,623.6 1096,627.6 1094.4,629.6" fill="none" stroke="#2e2e2e" stroke-width="0.95" stroke-linecap="round" stroke-linejoin="round"/>
<path d="M1124.4,560 C1123.4,563 1121.8,571.6 1118.4,578 C1115,584.4 1108.2,592.8 1104,598.4 C1099.8,604 1095.8,605.6 1093.2,611.6 C1090.6,617.6 1089.2,630.6 1088.4,634.4" fill="none" stroke="#2e2e2e" stroke-width="0.95" stroke-linecap="round" stroke-linejoin="round"/>
<path d="M1131.6,579.2 C1130.2,582.6 1127.4,590.8 1123.2,599.6 C1119,608.4 1110.8,624.8 1106.4,632 C1102,639.2 1098.4,641 1096.8,642.8" fill="none" stroke="#2e2e2e" stroke-width="0.95" stroke-linecap="round" stroke-linejoin="round"/>
<path d="M1132.5,580 C1133.6,579.6 1136.8,577.8 1139,577.5 C1141.2,577.2 1144.8,577.9 1146,578" fill="none" stroke="#2e2e2e" stroke-width="0.95" stroke-linecap="round" stroke-linejoin="round"/>
<path d="M1116,616.4 C1116.5,617.5 1117.8,621.1 1119,623 C1120.2,624.9 1122.5,627 1123.2,627.8" fill="none" stroke="#2e2e2e" stroke-width="0.95" stroke-linecap="round" stroke-linejoin="round"/>
<path d="M952.4,526.6 L987.2,545.2" fill="none" stroke="#2e2e2e" stroke-width="0.95" stroke-linecap="round" stroke-linejoin="round"/>
<path d="M929.6,587.2 C931,588.8 936,592.8 938,596.8 C940,600.8 941.4,606.6 941.6,611.2 C941.8,615.8 940.4,620.6 939.2,624.4 C938,628.2 935.8,631.6 934.4,634 C933,636.4 931.2,637 930.8,638.8 C930.4,640.6 930.6,642 932,644.8 C933.4,647.6 937.4,652.4 939.2,655.6 C941,658.8 941.6,660 942.8,664 C944,668 945.5,675.2 946.4,679.6 C947.3,684 947.8,685.2 948.4,690.4 C949,695.6 949.9,707.4 950.2,710.8" fill="none" stroke="#2e2e2e" stroke-width="0.95" stroke-linecap="round" stroke-linejoin="round"/>
<path d="M929.6,588.4 L975.2,600.4 C977,600.2 982.6,600 986,599.2 C989.4,598.4 991.6,595.8 995.6,595.6 C999.6,595.4 1007.6,597.6 1010,598 L1035.2,608.2" fill="none" stroke="#2e2e2e" stroke-width="0.95" stroke-linecap="round" stroke-linejoin="round"/>
<path d="M940.4,624.4 L968,632.8 C971.6,633.3 983.6,635.5 989.6,635.8 C995.6,636.1 999.6,635.1 1004,634.6 C1008.4,634.1 1011.5,633 1016,632.8 C1020.5,632.6 1028.5,633.3 1031,633.4 L1079.6,646" fill="none" stroke="#2e2e2e" stroke-width="0.95" stroke-linecap="round" stroke-linejoin="round"/>
<path d="M1046,608.2 L1079.4,615.2" fill="none" stroke="#2e2e2e" stroke-width="0.95" stroke-linecap="round" stroke-linejoin="round"/>
<path d="M1020,601.4 L1035.6,608" fill="none" stroke="#2e2e2e" stroke-width="0.95" stroke-linecap="round" stroke-linejoin="round"/>
<path d="M1042.2,560 C1042.4,564 1043.2,580 1043.4,584" fill="none" stroke="#2e2e2e" stroke-width="0.95" stroke-linecap="round" stroke-linejoin="round"/>
<path d="M942.8,656.8 L1036,696.4" fill="none" stroke="#2e2e2e" stroke-width="0.95" stroke-linecap="round" stroke-linejoin="round"/>
<path d="M944.8,673.6 L1032.4,716.8" fill="none" stroke="#2e2e2e" stroke-width="0.95" stroke-linecap="round" stroke-linejoin="round"/>
<path d="M950.8,702.4 L1039.6,751.6" fill="none" stroke="#2e2e2e" stroke-width="0.95" stroke-linecap="round" stroke-linejoin="round"/>
<path d="M950.8,712 L1039.6,761.2" fill="none" stroke="#2e2e2e" stroke-width="0.95" stroke-linecap="round" stroke-linejoin="round"/>
<path d="M1016.8,688 C1017.2,690 1018.7,696.2 1019.2,700 C1019.7,703.8 1019.7,709 1019.8,710.8" fill="none" stroke="#2e2e2e" stroke-width="0.95" stroke-linecap="round" stroke-linejoin="round"/>
<path d="M920,588.4 C918,589.2 911.4,591 908,593.2 C904.6,595.4 901,600.2 899.6,601.6" fill="none" stroke="#2e2e2e" stroke-width="0.95" stroke-linecap="round" stroke-linejoin="round"/>
<path d="M920,588.4 C921.6,588.2 928,587.4 929.6,587.2" fill="none" stroke="#2e2e2e" stroke-width="0.95" stroke-linecap="round" stroke-linejoin="round"/>
<path d="M900.8,520 C899.6,523 895.6,531 893.6,538 C891.6,545 889.2,554.6 888.8,562 C888.4,569.4 889.4,575.8 891.2,582.4 C893,589 898.6,596.4 899.6,601.6 C900.6,606.8 898,610.4 897.2,613.6 C896.4,616.8 896,618 894.8,620.8 C893.6,623.6 890.6,626.2 890,630.4 C889.4,634.6 890,640.4 891.2,646 C892.4,651.6 895.1,659.6 897.2,664 C899.3,668.4 902.1,668 904,672.4 C905.9,676.8 908,684.6 908.8,690.4 C909.6,696.2 909.6,702 908.8,707.2 C908,712.4 906.4,717.6 904,721.6 C901.6,725.6 896,729.6 894.4,731.2" fill="none" stroke="#2e2e2e" stroke-width="0.95" stroke-linecap="round" stroke-linejoin="round"/>
<path d="M894.8,620.8 L869.6,629.2" fill="none" stroke="#2e2e2e" stroke-width="0.95" stroke-linecap="round" stroke-linejoin="round"/>
<path d="M894.4,731.2 L847.6,752.2 L838,763" fill="none" stroke="#2e2e2e" stroke-width="0.95" stroke-linecap="round" stroke-linejoin="round"/>
<path d="M894.4,731.2 C893.8,733.2 891.2,738.4 890.8,743.2 C890.4,748 890.8,754.6 892,760 C893.2,765.4 895.6,771 898,775.6 C900.4,780.2 904,784.8 906.4,787.6 C908.8,790.4 911.4,791.6 912.4,792.4" fill="none" stroke="#2e2e2e" stroke-width="0.95" stroke-linecap="round" stroke-linejoin="round"/>
<path d="M838,763.6 C838.2,765.6 838.2,771.2 839.2,775.6 C840.2,780 841.8,784.6 844,790 C846.2,795.4 849.8,804.1 852.4,808 C855,811.9 856,811.3 859.6,813.6 C863.2,815.9 870.6,819.6 874,822 C877.4,824.4 877,825.6 880,828 C883,830.4 890,835 892,836.4" fill="none" stroke="#2e2e2e" stroke-width="0.95" stroke-linecap="round" stroke-linejoin="round"/>
<path d="M892,836.4 L970.6,883.2" fill="none" stroke="#2e2e2e" stroke-width="0.95" stroke-linecap="round" stroke-linejoin="round"/>
<path d="M892,836.4 L962.8,796.8" fill="none" stroke="#2e2e2e" stroke-width="0.95" stroke-linecap="round" stroke-linejoin="round"/>
<path d="M881.2,816.6 L912.4,792" fill="none" stroke="#2e2e2e" stroke-width="0.95" stroke-linecap="round" stroke-linejoin="round"/>
<path d="M950.2,710.8 C948.5,710.9 943.3,710.6 940,711.4 C936.7,712.2 933,713.7 930.4,715.6 C927.8,717.5 925.8,719.4 924.4,722.8 C923,726.2 922.3,729.8 922,736 C921.7,742.2 923,753 922.6,760 C922.2,767 921.3,772.6 919.6,778 C917.9,783.4 913.6,790 912.4,792.4" fill="none" stroke="#2e2e2e" stroke-width="0.95" stroke-linecap="round" stroke-linejoin="round"/>
<path d="M950.2,710.8 C947.7,711.4 938.7,712.2 935.2,714.4 C931.7,716.6 930.2,719.4 929.2,724 C928.2,728.6 928.2,736 929.2,742 C930.2,748 932.4,754 935.2,760 C938,766 943,773.1 946,778 C949,782.9 950.4,786.5 953.2,789.6 C956,792.7 961.2,795.6 962.8,796.8" fill="none" stroke="#2e2e2e" stroke-width="0.95" stroke-linecap="round" stroke-linejoin="round"/>
<path d="M962.8,796.8 L1034.8,837" fill="none" stroke="#2e2e2e" stroke-width="0.95" stroke-linecap="round" stroke-linejoin="round"/>
<path d="M827.2,648 C829,648.7 834.6,650.1 838,652 C841.4,653.9 844.8,656 847.6,659.2 C850.4,662.4 853.6,669.2 854.8,671.2 C854.9,668.6 854.6,660.8 855.4,655.6 C856.2,650.4 858.2,643.6 859.6,640 C861,636.4 863.3,635 864,634" fill="none" stroke="#2e2e2e" stroke-width="0.95" />
<path d="M859.6,640 C861,638.8 866.6,634.2 868,633" fill="none" stroke="#2e2e2e" stroke-width="0.95" stroke-linecap="round" stroke-linejoin="round"/>
<path d="M1040.2,751.6 L1040.2,761" fill="none" stroke="#2e2e2e" stroke-width="0.95" stroke-linecap="round" stroke-linejoin="round"/>
<path d="M997.6,236.8 Q1003.6,232.6 1009.6,236.2 L1166,325.5 Q1170,327.5 1171,332 L1179,378 Q1180.5,388 1175,395 L1140,434 L1135,438.4 L1172,445.6 L1184,439.6 Q1197,433.5 1204,437 L1258,467 Q1261.5,469 1262.5,474 L1271,526.3 L1298,540.9 L1316,539.8 Q1319,540 1321,542 L1370,570.1 Q1378,573 1377,581 L1371,618 Q1369,633 1362,638 L1303.5,676 C1303,677 1302.9,678 1300.3,682 C1297.7,686 1291.2,695.6 1288.1,699.8 C1285,704 1283.2,705.4 1281.6,707.3 C1280,709.2 1279.1,710.4 1278.6,711 L1278.6,772.4 L1228.3,800.5 L1223.2,804.4 L1223.2,818.6 L1033.6,927.7 L1022.5,920.7 L971.2,948.9 L697,790 L697,686 L693,681 L693,632 C692.2,629.3 690.5,622.7 688,616 C685.5,609.3 680.2,598.5 678,592 C675.8,585.5 675.5,579.5 675,577 L647,559.6 C646.1,559.1 643,557.7 641.5,556.5 C640,555.3 638.8,554.2 638,552.5 C637.2,550.8 637,547.1 636.8,546 L636.8,491.3 C637,489.4 637.1,483.4 638,480 C638.9,476.6 640.2,473.5 641.9,471 C643.6,468.5 645.1,467.4 648,465 C650.9,462.6 657.2,457.9 659,456.5 L713.6,424.8 C714.7,423.9 717.9,421.7 720,419.2 C722.1,416.7 724.2,413.7 726.3,410 C728.4,406.3 730.2,402.1 732.8,397 C735.4,391.9 738.4,385.5 741.7,379.2 C745,372.9 748.7,366 752.6,359.4 C756.5,352.8 760.6,346.2 765.4,339.6 C770.2,333 776.5,325.2 781.3,319.8 C786.1,314.4 789.5,311 794,307 C798.5,303 803.7,299.5 808,296 C812.3,292.5 816,288.9 820,286 C824,283.1 828,281 832,278.8 C836,276.6 839.4,274.6 844,272.8 C848.6,271 854.2,269.1 859.6,268 C865,266.9 871,266.1 876.4,266.2 C881.8,266.3 887.4,267.4 892,268.6 C896.6,269.8 900.4,272.1 904,273.4 C907.6,274.7 912,275.9 913.6,276.4 Q920,277.5 925,274 Z" fill="none" stroke="#000" stroke-width="1.5" stroke-linejoin="round"/>
<line x1="681.8" y1="608.6" x2="704" y2="596" stroke="#fff" stroke-width="4.2" stroke-linecap="round"/>
<line x1="556" y1="680" x2="704" y2="596" stroke="#7c7c7c" stroke-width="1.15" stroke-dasharray="26 6" stroke-dashoffset="0"/>
<line x1="697.5" y1="793.6" x2="830" y2="717.5" stroke="#fff" stroke-width="4.2" stroke-linecap="round"/>
<line x1="689" y1="798.5" x2="830" y2="717.5" stroke="#7c7c7c" stroke-width="1.15" stroke-dasharray="26 6" stroke-dashoffset="0"/>
<line x1="1171" y1="324.3" x2="1199.6" y2="307.4" stroke="#7c7c7c" stroke-width="1.15" stroke-dasharray="11 4" stroke-dashoffset="0"/>
<line x1="1263.4" y1="466.6" x2="1307.4" y2="440.8" stroke="#7c7c7c" stroke-width="1.15" stroke-dasharray="11 4" stroke-dashoffset="0"/>
<line x1="589.6" y1="486.3" x2="634" y2="501.4" stroke="#7c7c7c" stroke-width="1.15" stroke-dasharray="26 7" stroke-dashoffset="2"/>
<line x1="641" y1="628.7" x2="690" y2="657" stroke="#7c7c7c" stroke-width="1.15" stroke-dasharray="18 6" stroke-dashoffset="0"/>
<line x1="1229" y1="509.5" x2="1372.7" y2="592.4" stroke="#fff" stroke-width="4.2" stroke-linecap="round"/>
<line x1="1229" y1="509.5" x2="1398" y2="607" stroke="#7c7c7c" stroke-width="1.15" stroke-dasharray="19 6" stroke-dashoffset="0"/>
<line x1="1340" y1="611.5" x2="1371.3" y2="629.7" stroke="#fff" stroke-width="4.2" stroke-linecap="round"/>
<line x1="1340" y1="611.5" x2="1549" y2="733" stroke="#7c7c7c" stroke-width="1.15" stroke-dasharray="19 6" stroke-dashoffset="0"/>
<line x1="1120" y1="740.5" x2="1223.7" y2="800.9" stroke="#fff" stroke-width="4.2" stroke-linecap="round"/>
<line x1="1120" y1="740.5" x2="1290" y2="839.5" stroke="#7c7c7c" stroke-width="1.15" stroke-dasharray="19 6" stroke-dashoffset="0"/>
<line x1="857" y1="889" x2="857" y2="1012" stroke="#7c7c7c" stroke-width="1.15" stroke-dasharray="31 4.5" stroke-dashoffset="0"/>
<line x1="982.4" y1="948.5" x2="982.4" y2="1027" stroke="#7c7c7c" stroke-width="1.15" stroke-dasharray="8 4.5 29 4.5 40 4.5" stroke-dashoffset="0"/>
<path d="M517.5,725.2 L552.1,705.2 A20.5,11.8 60 0 0 531.6,669.6 L496.9,689.6 A20.5,11.8 60 0 0 517.5,725.2 Z" fill="#b4b4b4" stroke="#000" stroke-width="1.6" stroke-linejoin="round"/>
<path d="M523.2,720.9 A19.7,11.4 60 0 0 503.5,686.8" fill="none" stroke="#c4c4c4" stroke-width="3.7" />
<path d="M529.6,717.2 A19.7,11.4 60 0 0 509.9,683.1" fill="none" stroke="#c4c4c4" stroke-width="3.7" />
<path d="M536,713.5 A19.7,11.4 60 0 0 516.3,679.4" fill="none" stroke="#c4c4c4" stroke-width="3.7" />
<path d="M542.4,709.8 A19.7,11.4 60 0 0 522.7,675.7" fill="none" stroke="#c4c4c4" stroke-width="3.7" />
<path d="M548.8,706.1 A19.7,11.4 60 0 0 529.1,672" fill="none" stroke="#c4c4c4" stroke-width="3.7" />
<path d="M520.1,723 A20,11.5 60 0 0 500.1,688.4" fill="none" stroke="#626262" stroke-width="0.9" />
<path d="M526.5,719.3 A20,11.5 60 0 0 506.5,684.7" fill="none" stroke="#626262" stroke-width="0.9" />
<path d="M532.9,715.6 A20,11.5 60 0 0 512.9,681" fill="none" stroke="#626262" stroke-width="0.9" />
<path d="M539.3,711.9 A20,11.5 60 0 0 519.3,677.3" fill="none" stroke="#626262" stroke-width="0.9" />
<path d="M545.8,708.2 A20,11.5 60 0 0 525.8,673.6" fill="none" stroke="#626262" stroke-width="0.9" />
<ellipse cx="507.2" cy="707.4" rx="20.5" ry="11.8" transform="rotate(60 507.2 707.4)" fill="#cacaca" stroke="#444" stroke-width="0.8" />
<ellipse cx="507.5" cy="707.2" rx="17.4" ry="10.1" transform="rotate(60 507.5 707.2)" fill="none" stroke="#8a8a8a" stroke-width="0.7" />
<ellipse cx="507.2" cy="707.4" rx="15.7" ry="9.1" transform="rotate(60 507.2 707.4)" fill="#8e8e8e" stroke="#000" stroke-width="1.3" />
<path d="M515,721 A15.7,9.1 60 0 0 499.4,693.8" fill="none" stroke="#000" stroke-width="2.0" stroke-linecap="round"/>
<path d="M517.5,725.2 L552.1,705.2 A20.5,11.8 60 0 0 531.6,669.6 L496.9,689.6 A20.5,11.8 60 0 0 517.5,725.2 Z" fill="none" stroke="#000" stroke-width="1.6" stroke-linejoin="round"/>
<path d="M650,844.4 L684.6,824.4 A20.5,11.8 60 0 0 664.1,788.8 L629.5,808.8 A20.5,11.8 60 0 0 650,844.4 Z" fill="#b4b4b4" stroke="#000" stroke-width="1.6" stroke-linejoin="round"/>
<path d="M655.7,840.1 A19.7,11.4 60 0 0 636,806" fill="none" stroke="#c4c4c4" stroke-width="3.7" />
<path d="M662.1,836.4 A19.7,11.4 60 0 0 642.4,802.3" fill="none" stroke="#c4c4c4" stroke-width="3.7" />
<path d="M668.5,832.7 A19.7,11.4 60 0 0 648.8,798.6" fill="none" stroke="#c4c4c4" stroke-width="3.7" />
<path d="M674.9,829 A19.7,11.4 60 0 0 655.2,794.9" fill="none" stroke="#c4c4c4" stroke-width="3.7" />
<path d="M681.3,825.3 A19.7,11.4 60 0 0 661.6,791.2" fill="none" stroke="#c4c4c4" stroke-width="3.7" />
<path d="M652.6,842.2 A20,11.5 60 0 0 632.6,807.6" fill="none" stroke="#626262" stroke-width="0.9" />
<path d="M659,838.5 A20,11.5 60 0 0 639,803.9" fill="none" stroke="#626262" stroke-width="0.9" />
<path d="M665.4,834.8 A20,11.5 60 0 0 645.4,800.2" fill="none" stroke="#626262" stroke-width="0.9" />
<path d="M671.8,831.1 A20,11.5 60 0 0 651.8,796.5" fill="none" stroke="#626262" stroke-width="0.9" />
<path d="M678.3,827.4 A20,11.5 60 0 0 658.3,792.8" fill="none" stroke="#626262" stroke-width="0.9" />
<ellipse cx="639.7" cy="826.6" rx="20.5" ry="11.8" transform="rotate(60 639.7 826.6)" fill="#cacaca" stroke="#444" stroke-width="0.8" />
<ellipse cx="640" cy="826.5" rx="17.4" ry="10.1" transform="rotate(60 640 826.5)" fill="none" stroke="#8a8a8a" stroke-width="0.7" />
<ellipse cx="639.7" cy="826.6" rx="15.7" ry="9.1" transform="rotate(60 639.7 826.6)" fill="#8e8e8e" stroke="#000" stroke-width="1.3" />
<path d="M647.5,840.2 A15.7,9.1 60 0 0 631.9,813" fill="none" stroke="#000" stroke-width="2.0" stroke-linecap="round"/>
<path d="M650,844.4 L684.6,824.4 A20.5,11.8 60 0 0 664.1,788.8 L629.5,808.8 A20.5,11.8 60 0 0 650,844.4 Z" fill="none" stroke="#000" stroke-width="1.6" stroke-linejoin="round"/>
<path d="M1209.8,325.2 L1244.5,305.2 A20.5,11.8 60 0 0 1224,269.6 L1189.3,289.6 A20.5,11.8 60 0 0 1209.8,325.2 Z" fill="#b4b4b4" stroke="#000" stroke-width="1.6" stroke-linejoin="round"/>
<path d="M1215.6,320.9 A19.7,11.4 60 0 0 1195.9,286.8" fill="none" stroke="#c4c4c4" stroke-width="3.7" />
<path d="M1222,317.2 A19.7,11.4 60 0 0 1202.3,283.1" fill="none" stroke="#c4c4c4" stroke-width="3.7" />
<path d="M1228.4,313.5 A19.7,11.4 60 0 0 1208.7,279.4" fill="none" stroke="#c4c4c4" stroke-width="3.7" />
<path d="M1234.8,309.8 A19.7,11.4 60 0 0 1215.1,275.7" fill="none" stroke="#c4c4c4" stroke-width="3.7" />
<path d="M1241.2,306.1 A19.7,11.4 60 0 0 1221.5,272" fill="none" stroke="#c4c4c4" stroke-width="3.7" />
<path d="M1212.5,323 A20,11.5 60 0 0 1192.5,288.4" fill="none" stroke="#626262" stroke-width="0.9" />
<path d="M1218.9,319.3 A20,11.5 60 0 0 1198.9,284.7" fill="none" stroke="#626262" stroke-width="0.9" />
<path d="M1225.3,315.6 A20,11.5 60 0 0 1205.3,281" fill="none" stroke="#626262" stroke-width="0.9" />
<path d="M1231.7,311.9 A20,11.5 60 0 0 1211.7,277.3" fill="none" stroke="#626262" stroke-width="0.9" />
<path d="M1238.2,308.2 A20,11.5 60 0 0 1218.2,273.6" fill="none" stroke="#626262" stroke-width="0.9" />
<ellipse cx="1199.6" cy="307.4" rx="20.5" ry="11.8" transform="rotate(60 1199.6 307.4)" fill="#cacaca" stroke="#444" stroke-width="0.8" />
<ellipse cx="1199.9" cy="307.2" rx="17.4" ry="10.1" transform="rotate(60 1199.9 307.2)" fill="none" stroke="#8a8a8a" stroke-width="0.7" />
<ellipse cx="1199.6" cy="307.4" rx="15.7" ry="9.1" transform="rotate(60 1199.6 307.4)" fill="#8e8e8e" stroke="#000" stroke-width="1.3" />
<path d="M1207.4,321 A15.7,9.1 60 0 0 1191.8,293.8" fill="none" stroke="#000" stroke-width="2.0" stroke-linecap="round"/>
<path d="M1209.8,325.2 L1244.5,305.2 A20.5,11.8 60 0 0 1224,269.6 L1189.3,289.6 A20.5,11.8 60 0 0 1209.8,325.2 Z" fill="none" stroke="#000" stroke-width="1.6" stroke-linejoin="round"/>
<path d="M1317.7,458.6 L1352.3,438.6 A20.5,11.8 60 0 0 1331.8,403 L1297.2,423 A20.5,11.8 60 0 0 1317.7,458.6 Z" fill="#b4b4b4" stroke="#000" stroke-width="1.6" stroke-linejoin="round"/>
<path d="M1323.4,454.3 A19.7,11.4 60 0 0 1303.7,420.2" fill="none" stroke="#c4c4c4" stroke-width="3.7" />
<path d="M1329.8,450.6 A19.7,11.4 60 0 0 1310.1,416.5" fill="none" stroke="#c4c4c4" stroke-width="3.7" />
<path d="M1336.2,446.9 A19.7,11.4 60 0 0 1316.5,412.8" fill="none" stroke="#c4c4c4" stroke-width="3.7" />
<path d="M1342.6,443.2 A19.7,11.4 60 0 0 1322.9,409.1" fill="none" stroke="#c4c4c4" stroke-width="3.7" />
<path d="M1349,439.5 A19.7,11.4 60 0 0 1329.3,405.4" fill="none" stroke="#c4c4c4" stroke-width="3.7" />
<path d="M1320.3,456.4 A20,11.5 60 0 0 1300.3,421.8" fill="none" stroke="#626262" stroke-width="0.9" />
<path d="M1326.7,452.7 A20,11.5 60 0 0 1306.7,418.1" fill="none" stroke="#626262" stroke-width="0.9" />
<path d="M1333.1,449 A20,11.5 60 0 0 1313.1,414.4" fill="none" stroke="#626262" stroke-width="0.9" />
<path d="M1339.5,445.3 A20,11.5 60 0 0 1319.5,410.7" fill="none" stroke="#626262" stroke-width="0.9" />
<path d="M1346,441.6 A20,11.5 60 0 0 1326,407" fill="none" stroke="#626262" stroke-width="0.9" />
<ellipse cx="1307.4" cy="440.8" rx="20.5" ry="11.8" transform="rotate(60 1307.4 440.8)" fill="#cacaca" stroke="#444" stroke-width="0.8" />
<ellipse cx="1307.7" cy="440.7" rx="17.4" ry="10.1" transform="rotate(60 1307.7 440.7)" fill="none" stroke="#8a8a8a" stroke-width="0.7" />
<ellipse cx="1307.4" cy="440.8" rx="15.7" ry="9.1" transform="rotate(60 1307.4 440.8)" fill="#8e8e8e" stroke="#000" stroke-width="1.3" />
<path d="M1315.2,454.4 A15.7,9.1 60 0 0 1299.6,427.2" fill="none" stroke="#000" stroke-width="2.0" stroke-linecap="round"/>
<path d="M1317.7,458.6 L1352.3,438.6 A20.5,11.8 60 0 0 1331.8,403 L1297.2,423 A20.5,11.8 60 0 0 1317.7,458.6 Z" fill="none" stroke="#000" stroke-width="1.6" stroke-linejoin="round"/>
<path d="M1465.5,619.1 L1427.4,597.1 A23,13.3 -60 0 0 1404.4,636.9 L1442.5,658.9 A23,13.3 -60 0 0 1465.5,619.1 Z" fill="#b4b4b4" stroke="#000" stroke-width="1.6" stroke-linejoin="round"/>
<path d="M1459.2,616.4 A22.2,12.8 -60 0 0 1437,654.8" fill="none" stroke="#c4c4c4" stroke-width="3.4166666666666665" />
<path d="M1453.3,613 A22.2,12.8 -60 0 0 1431.1,651.4" fill="none" stroke="#c4c4c4" stroke-width="3.4166666666666665" />
<path d="M1447.4,609.6 A22.2,12.8 -60 0 0 1425.2,648" fill="none" stroke="#c4c4c4" stroke-width="3.4166666666666665" />
<path d="M1441.5,606.1 A22.2,12.8 -60 0 0 1419.3,644.6" fill="none" stroke="#c4c4c4" stroke-width="3.4166666666666665" />
<path d="M1435.6,602.7 A22.2,12.8 -60 0 0 1413.4,641.2" fill="none" stroke="#c4c4c4" stroke-width="3.4166666666666665" />
<path d="M1429.7,599.3 A22.2,12.8 -60 0 0 1407.5,637.8" fill="none" stroke="#c4c4c4" stroke-width="3.4166666666666665" />
<path d="M1462.4,617.8 A22.5,13 -60 0 0 1439.9,656.8" fill="none" stroke="#626262" stroke-width="0.9" />
<path d="M1456.4,614.4 A22.5,13 -60 0 0 1433.9,653.4" fill="none" stroke="#626262" stroke-width="0.9" />
<path d="M1450.5,611 A22.5,13 -60 0 0 1428,650" fill="none" stroke="#626262" stroke-width="0.9" />
<path d="M1444.6,607.6 A22.5,13 -60 0 0 1422.1,646.6" fill="none" stroke="#626262" stroke-width="0.9" />
<path d="M1438.7,604.2 A22.5,13 -60 0 0 1416.2,643.1" fill="none" stroke="#626262" stroke-width="0.9" />
<path d="M1432.8,600.8 A22.5,13 -60 0 0 1410.3,639.7" fill="none" stroke="#626262" stroke-width="0.9" />
<ellipse cx="1454" cy="639" rx="23" ry="13.3" transform="rotate(-60 1454 639)" fill="#cacaca" stroke="#444" stroke-width="0.8" />
<ellipse cx="1453.7" cy="638.9" rx="19.6" ry="11.3" transform="rotate(-60 1453.7 638.9)" fill="none" stroke="#8a8a8a" stroke-width="0.7" />
<ellipse cx="1454" cy="639" rx="17.6" ry="10.2" transform="rotate(-60 1454 639)" fill="#8e8e8e" stroke="#000" stroke-width="1.3" />
<path d="M1462.8,623.8 A17.6,10.2 -60 0 0 1445.2,654.2" fill="none" stroke="#000" stroke-width="2.0" stroke-linecap="round"/>
<path d="M1465.5,619.1 L1427.4,597.1 A23,13.3 -60 0 0 1404.4,636.9 L1442.5,658.9 A23,13.3 -60 0 0 1465.5,619.1 Z" fill="none" stroke="#000" stroke-width="1.6" stroke-linejoin="round"/>
<path d="M1616.2,744.5 L1578.1,722.5 A23,13.3 -60 0 0 1555.1,762.3 L1593.2,784.3 A23,13.3 -60 0 0 1616.2,744.5 Z" fill="#b4b4b4" stroke="#000" stroke-width="1.6" stroke-linejoin="round"/>
<path d="M1609.9,741.8 A22.2,12.8 -60 0 0 1587.7,780.2" fill="none" stroke="#c4c4c4" stroke-width="3.4166666666666665" />
<path d="M1604,738.4 A22.2,12.8 -60 0 0 1581.8,776.8" fill="none" stroke="#c4c4c4" stroke-width="3.4166666666666665" />
<path d="M1598.1,735 A22.2,12.8 -60 0 0 1575.9,773.4" fill="none" stroke="#c4c4c4" stroke-width="3.4166666666666665" />
<path d="M1592.2,731.5 A22.2,12.8 -60 0 0 1570,770" fill="none" stroke="#c4c4c4" stroke-width="3.4166666666666665" />
<path d="M1586.3,728.1 A22.2,12.8 -60 0 0 1564.1,766.6" fill="none" stroke="#c4c4c4" stroke-width="3.4166666666666665" />
<path d="M1580.4,724.7 A22.2,12.8 -60 0 0 1558.2,763.2" fill="none" stroke="#c4c4c4" stroke-width="3.4166666666666665" />
<path d="M1613.1,743.2 A22.5,13 -60 0 0 1590.6,782.2" fill="none" stroke="#626262" stroke-width="0.9" />
<path d="M1607.1,739.8 A22.5,13 -60 0 0 1584.6,778.8" fill="none" stroke="#626262" stroke-width="0.9" />
<path d="M1601.2,736.4 A22.5,13 -60 0 0 1578.7,775.4" fill="none" stroke="#626262" stroke-width="0.9" />
<path d="M1595.3,733 A22.5,13 -60 0 0 1572.8,772" fill="none" stroke="#626262" stroke-width="0.9" />
<path d="M1589.4,729.6 A22.5,13 -60 0 0 1566.9,768.5" fill="none" stroke="#626262" stroke-width="0.9" />
<path d="M1583.5,726.2 A22.5,13 -60 0 0 1561,765.1" fill="none" stroke="#626262" stroke-width="0.9" />
<ellipse cx="1604.7" cy="764.4" rx="23" ry="13.3" transform="rotate(-60 1604.7 764.4)" fill="#cacaca" stroke="#444" stroke-width="0.8" />
<ellipse cx="1604.4" cy="764.2" rx="19.6" ry="11.3" transform="rotate(-60 1604.4 764.2)" fill="none" stroke="#8a8a8a" stroke-width="0.7" />
<ellipse cx="1604.7" cy="764.4" rx="17.6" ry="10.2" transform="rotate(-60 1604.7 764.4)" fill="#8e8e8e" stroke="#000" stroke-width="1.3" />
<path d="M1613.5,749.2 A17.6,10.2 -60 0 0 1595.9,779.6" fill="none" stroke="#000" stroke-width="2.0" stroke-linecap="round"/>
<path d="M1616.2,744.5 L1578.1,722.5 A23,13.3 -60 0 0 1555.1,762.3 L1593.2,784.3 A23,13.3 -60 0 0 1616.2,744.5 Z" fill="none" stroke="#000" stroke-width="1.6" stroke-linejoin="round"/>
<path d="M1351.2,848.1 L1313.1,826.1 A23,13.3 -60 0 0 1290.1,865.9 L1328.2,887.9 A23,13.3 -60 0 0 1351.2,848.1 Z" fill="#b4b4b4" stroke="#000" stroke-width="1.6" stroke-linejoin="round"/>
<path d="M1344.9,845.4 A22.2,12.8 -60 0 0 1322.7,883.8" fill="none" stroke="#c4c4c4" stroke-width="3.4166666666666665" />
<path d="M1339,842 A22.2,12.8 -60 0 0 1316.8,880.4" fill="none" stroke="#c4c4c4" stroke-width="3.4166666666666665" />
<path d="M1333.1,838.6 A22.2,12.8 -60 0 0 1310.9,877" fill="none" stroke="#c4c4c4" stroke-width="3.4166666666666665" />
<path d="M1327.2,835.1 A22.2,12.8 -60 0 0 1305,873.6" fill="none" stroke="#c4c4c4" stroke-width="3.4166666666666665" />
<path d="M1321.3,831.7 A22.2,12.8 -60 0 0 1299.1,870.2" fill="none" stroke="#c4c4c4" stroke-width="3.4166666666666665" />
<path d="M1315.4,828.3 A22.2,12.8 -60 0 0 1293.2,866.8" fill="none" stroke="#c4c4c4" stroke-width="3.4166666666666665" />
<path d="M1348.1,846.8 A22.5,13 -60 0 0 1325.6,885.8" fill="none" stroke="#626262" stroke-width="0.9" />
<path d="M1342.1,843.4 A22.5,13 -60 0 0 1319.6,882.4" fill="none" stroke="#626262" stroke-width="0.9" />
<path d="M1336.2,840 A22.5,13 -60 0 0 1313.7,879" fill="none" stroke="#626262" stroke-width="0.9" />
<path d="M1330.3,836.6 A22.5,13 -60 0 0 1307.8,875.6" fill="none" stroke="#626262" stroke-width="0.9" />
<path d="M1324.4,833.2 A22.5,13 -60 0 0 1301.9,872.1" fill="none" stroke="#626262" stroke-width="0.9" />
<path d="M1318.5,829.8 A22.5,13 -60 0 0 1296,868.7" fill="none" stroke="#626262" stroke-width="0.9" />
<ellipse cx="1339.7" cy="868" rx="23" ry="13.3" transform="rotate(-60 1339.7 868)" fill="#cacaca" stroke="#444" stroke-width="0.8" />
<ellipse cx="1339.4" cy="867.9" rx="19.6" ry="11.3" transform="rotate(-60 1339.4 867.9)" fill="none" stroke="#8a8a8a" stroke-width="0.7" />
<ellipse cx="1339.7" cy="868" rx="17.6" ry="10.2" transform="rotate(-60 1339.7 868)" fill="#8e8e8e" stroke="#000" stroke-width="1.3" />
<path d="M1348.5,852.8 A17.6,10.2 -60 0 0 1330.9,883.2" fill="none" stroke="#000" stroke-width="2.0" stroke-linecap="round"/>
<path d="M1351.2,848.1 L1313.1,826.1 A23,13.3 -60 0 0 1290.1,865.9 L1328.2,887.9 A23,13.3 -60 0 0 1351.2,848.1 Z" fill="none" stroke="#000" stroke-width="1.6" stroke-linejoin="round"/>
<path d="M654.5,605.7 L600.8,574.7 A26.6,15.4 -60 0 0 574.2,620.7 L627.9,651.7 A26.6,15.4 -60 0 0 654.5,605.7 Z" fill="#b4b4b4" stroke="#000" stroke-width="1.6" stroke-linejoin="round"/>
<path d="M647.5,602.5 A25.8,14.9 -60 0 0 621.7,647.2" fill="none" stroke="#c4c4c4" stroke-width="4.214285714285714" />
<path d="M640.2,598.3 A25.8,14.9 -60 0 0 614.4,643" fill="none" stroke="#c4c4c4" stroke-width="4.214285714285714" />
<path d="M632.9,594.1 A25.8,14.9 -60 0 0 607.1,638.8" fill="none" stroke="#c4c4c4" stroke-width="4.214285714285714" />
<path d="M625.6,589.9 A25.8,14.9 -60 0 0 599.8,634.6" fill="none" stroke="#c4c4c4" stroke-width="4.214285714285714" />
<path d="M618.3,585.7 A25.8,14.9 -60 0 0 592.5,630.4" fill="none" stroke="#c4c4c4" stroke-width="4.214285714285714" />
<path d="M611,581.5 A25.8,14.9 -60 0 0 585.2,626.2" fill="none" stroke="#c4c4c4" stroke-width="4.214285714285714" />
<path d="M603.7,577.3 A25.8,14.9 -60 0 0 577.9,621.9" fill="none" stroke="#c4c4c4" stroke-width="4.214285714285714" />
<path d="M651.3,604.4 A26.1,15.1 -60 0 0 625.2,649.6" fill="none" stroke="#626262" stroke-width="0.9" />
<path d="M644,600.2 A26.1,15.1 -60 0 0 617.9,645.4" fill="none" stroke="#626262" stroke-width="0.9" />
<path d="M636.7,596 A26.1,15.1 -60 0 0 610.6,641.2" fill="none" stroke="#626262" stroke-width="0.9" />
<path d="M629.4,591.7 A26.1,15.1 -60 0 0 603.3,636.9" fill="none" stroke="#626262" stroke-width="0.9" />
<path d="M622.1,587.5 A26.1,15.1 -60 0 0 596,632.7" fill="none" stroke="#626262" stroke-width="0.9" />
<path d="M614.8,583.3 A26.1,15.1 -60 0 0 588.7,628.5" fill="none" stroke="#626262" stroke-width="0.9" />
<path d="M607.5,579.1 A26.1,15.1 -60 0 0 581.4,624.3" fill="none" stroke="#626262" stroke-width="0.9" />
<ellipse cx="641.2" cy="628.7" rx="26.6" ry="15.4" transform="rotate(-60 641.2 628.7)" fill="#cacaca" stroke="#444" stroke-width="0.8" />
<ellipse cx="640.9" cy="628.6" rx="22.6" ry="13.1" transform="rotate(-60 640.9 628.6)" fill="none" stroke="#8a8a8a" stroke-width="0.7" />
<ellipse cx="641.2" cy="628.7" rx="20.3" ry="11.7" transform="rotate(-60 641.2 628.7)" fill="#8e8e8e" stroke="#000" stroke-width="1.3" />
<path d="M651.4,611.1 A20.3,11.7 -60 0 0 631,646.3" fill="none" stroke="#000" stroke-width="2.0" stroke-linecap="round"/>
<path d="M654.5,605.7 L600.8,574.7 A26.6,15.4 -60 0 0 574.2,620.7 L627.9,651.7 A26.6,15.4 -60 0 0 654.5,605.7 Z" fill="none" stroke="#000" stroke-width="1.6" stroke-linejoin="round"/>
<path d="M597.2,463.5 L579.4,456.4 A25.2,17.4 -71.5 0 0 563.4,504.2 L582,509.1 A24,16.6 -71.5 0 0 597.2,463.5 Z" fill="#8e8e8e" stroke="#000" stroke-width="1.6" stroke-linejoin="round"/>
<path d="M597.1,463.8 A23.7,16.4 -71.5 0 0 582.1,508.8" fill="none" stroke="#1a1a1a" stroke-width="1.2" />
<path d="M589.6,460.8 A24.2,16.7 -71.5 0 0 574.3,506.7" fill="none" stroke="#1a1a1a" stroke-width="1.2" />
<path d="M597.2,463.5 L579.4,456.4 A25.2,17.4 -71.5 0 0 563.4,504.2 L582,509.1 A24,16.6 -71.5 0 0 597.2,463.5 Z" fill="none" stroke="#000" stroke-width="1.6" stroke-linejoin="round"/>
<path d="M819.3,946.3 A37.8,22.1 0 0 1 894.9,946.3 L894.9,949.6 A37.8,22.1 0 0 1 819.3,949.6 Z" fill="#b2b2b2" stroke="#000" stroke-width="1.7" />
<ellipse cx="857.1" cy="946.3" rx="37.8" ry="22.1" fill="#bebebe" stroke="#000" stroke-width="1.5"/>
<clipPath id="wc857"><ellipse cx="857.1" cy="946.9" rx="28.2" ry="14.6"/></clipPath>
<ellipse cx="857.1" cy="946.9" rx="28.2" ry="14.6" fill="#9c9c9c" stroke="none"/>
<ellipse cx="857.1" cy="950.2" rx="28.2" ry="14.6" fill="#fff" stroke="#000" stroke-width="1.6" clip-path="url(#wc857)"/>
<ellipse cx="857.1" cy="946.9" rx="28.2" ry="14.6" fill="none" stroke="#000" stroke-width="1.5"/>
<path d="M944.6,980.6 A37.8,22.1 0 0 1 1020.2,980.6 L1020.2,983.9 A37.8,22.1 0 0 1 944.6,983.9 Z" fill="#b2b2b2" stroke="#000" stroke-width="1.7" />
<ellipse cx="982.4" cy="980.6" rx="37.8" ry="22.1" fill="#bebebe" stroke="#000" stroke-width="1.5"/>
<clipPath id="wc982"><ellipse cx="982.4" cy="981.2" rx="28.2" ry="14.6"/></clipPath>
<ellipse cx="982.4" cy="981.2" rx="28.2" ry="14.6" fill="#9c9c9c" stroke="none"/>
<ellipse cx="982.4" cy="984.5" rx="28.2" ry="14.6" fill="#fff" stroke="#000" stroke-width="1.6" clip-path="url(#wc982)"/>
<ellipse cx="982.4" cy="981.2" rx="28.2" ry="14.6" fill="none" stroke="#000" stroke-width="1.5"/>
<ellipse cx="857" cy="1049.2" rx="34.2" ry="19.8" fill="#b4b4b4" stroke="#000" stroke-width="1.9"/>
<ellipse cx="857" cy="1044.4" rx="34.2" ry="19.8" fill="#bcbcbc" stroke="#000" stroke-width="1.6"/>
<path d="M825.3,1045.4 A31.7,18.3 0 0 0 888.7,1045.4" fill="none" stroke="#333" stroke-width="0.9"/>
<path d="M823.3,1047 A33.7,19.6 0 0 0 890.7,1047" fill="none" stroke="#333" stroke-width="0.9"/>
<path d="M829.4,1014.6 L829.4,1045 A27.6,15.6 0 0 0 884.6,1045 L884.6,1014.6 Z" fill="#b0b0b0" stroke="#000" stroke-width="1.5" />
<path d="M830.4,1020.8 A26.6,15.6 0 0 0 883.6,1020.6" fill="none" stroke="#c6c6c6" stroke-width="1.8"/>
<path d="M830,1019 A27,15.6 0 0 0 884,1019" fill="none" stroke="#444" stroke-width="0.8"/>
<path d="M830.4,1025.7 A26.6,15.6 0 0 0 883.6,1025.5" fill="none" stroke="#c6c6c6" stroke-width="1.8"/>
<path d="M830,1023.9 A27,15.6 0 0 0 884,1023.9" fill="none" stroke="#444" stroke-width="0.8"/>
<path d="M830.4,1030.6 A26.6,15.6 0 0 0 883.6,1030.4" fill="none" stroke="#c6c6c6" stroke-width="1.8"/>
<path d="M830,1028.8 A27,15.6 0 0 0 884,1028.8" fill="none" stroke="#444" stroke-width="0.8"/>
<path d="M830.4,1035.5 A26.6,15.6 0 0 0 883.6,1035.3" fill="none" stroke="#c6c6c6" stroke-width="1.8"/>
<path d="M830,1033.7 A27,15.6 0 0 0 884,1033.7" fill="none" stroke="#444" stroke-width="0.8"/>
<path d="M830.4,1040.4 A26.6,15.6 0 0 0 883.6,1040.2" fill="none" stroke="#c6c6c6" stroke-width="1.8"/>
<path d="M830,1038.6 A27,15.6 0 0 0 884,1038.6" fill="none" stroke="#444" stroke-width="0.8"/>
<rect x="852" y="1037.2" width="12" height="24" fill="#b0b0b0"/>
<ellipse cx="857" cy="1014.6" rx="27.6" ry="15.6" fill="#b8b8b8" stroke="#000" stroke-width="1.5"/>
<ellipse cx="982.4" cy="1064.8" rx="34.2" ry="19.8" fill="#b4b4b4" stroke="#000" stroke-width="1.9"/>
<ellipse cx="982.4" cy="1060" rx="34.2" ry="19.8" fill="#bcbcbc" stroke="#000" stroke-width="1.6"/>
<path d="M950.7,1061 A31.7,18.3 0 0 0 1014.1,1061" fill="none" stroke="#333" stroke-width="0.9"/>
<path d="M948.7,1062.6 A33.7,19.6 0 0 0 1016.1,1062.6" fill="none" stroke="#333" stroke-width="0.9"/>
<path d="M954.8,1030.2 L954.8,1060.6 A27.6,15.6 0 0 0 1010,1060.6 L1010,1030.2 Z" fill="#b0b0b0" stroke="#000" stroke-width="1.5" />
<path d="M955.8,1036.4 A26.6,15.6 0 0 0 1009,1036.2" fill="none" stroke="#c6c6c6" stroke-width="1.8"/>
<path d="M955.4,1034.6 A27,15.6 0 0 0 1009.4,1034.6" fill="none" stroke="#444" stroke-width="0.8"/>
<path d="M955.8,1041.3 A26.6,15.6 0 0 0 1009,1041.1" fill="none" stroke="#c6c6c6" stroke-width="1.8"/>
<path d="M955.4,1039.5 A27,15.6 0 0 0 1009.4,1039.5" fill="none" stroke="#444" stroke-width="0.8"/>
<path d="M955.8,1046.2 A26.6,15.6 0 0 0 1009,1046" fill="none" stroke="#c6c6c6" stroke-width="1.8"/>
<path d="M955.4,1044.4 A27,15.6 0 0 0 1009.4,1044.4" fill="none" stroke="#444" stroke-width="0.8"/>
<path d="M955.8,1051.1 A26.6,15.6 0 0 0 1009,1050.9" fill="none" stroke="#c6c6c6" stroke-width="1.8"/>
<path d="M955.4,1049.3 A27,15.6 0 0 0 1009.4,1049.3" fill="none" stroke="#444" stroke-width="0.8"/>
<path d="M955.8,1056 A26.6,15.6 0 0 0 1009,1055.8" fill="none" stroke="#c6c6c6" stroke-width="1.8"/>
<path d="M955.4,1054.2 A27,15.6 0 0 0 1009.4,1054.2" fill="none" stroke="#444" stroke-width="0.8"/>
<rect x="977.4" y="1052.8" width="12" height="24" fill="#b0b0b0"/>
<ellipse cx="982.4" cy="1030.2" rx="27.6" ry="15.6" fill="#b8b8b8" stroke="#000" stroke-width="1.5"/>
<line x1="1183.9" y1="316.7" x2="1199.6" y2="307.4" stroke="#fff" stroke-width="4.2" stroke-linecap="round"/>
<line x1="1171" y1="324.3" x2="1199.6" y2="307.4" stroke="#7c7c7c" stroke-width="1.15" stroke-dasharray="11 4" stroke-dashoffset="0"/>
<line x1="1287.6" y1="452.4" x2="1307.4" y2="440.8" stroke="#fff" stroke-width="4.2" stroke-linecap="round"/>
<line x1="1263.4" y1="466.6" x2="1307.4" y2="440.8" stroke="#7c7c7c" stroke-width="1.15" stroke-dasharray="11 4" stroke-dashoffset="0"/>
<line x1="589.6" y1="486.3" x2="604.7" y2="491.4" stroke="#fff" stroke-width="4.2" stroke-linecap="round"/>
<line x1="589.6" y1="486.3" x2="634" y2="501.4" stroke="#7c7c7c" stroke-width="1.15" stroke-dasharray="26 7" stroke-dashoffset="2"/>
<line x1="641" y1="628.7" x2="658.1" y2="638.6" stroke="#fff" stroke-width="4.2" stroke-linecap="round"/>
<line x1="641" y1="628.7" x2="690" y2="657" stroke="#7c7c7c" stroke-width="1.15" stroke-dasharray="18 6" stroke-dashoffset="0"/>
<clipPath id="cl1"><rect x="850" y="921" width="14" height="36.5"/></clipPath><g clip-path="url(#cl1)">
<line x1="857" y1="923.6" x2="857" y2="933.5" stroke="#fff" stroke-width="4.2" stroke-linecap="round"/>
<line x1="857" y1="889" x2="857" y2="1012" stroke="#7c7c7c" stroke-width="1.15" stroke-dasharray="31 4.5" stroke-dashoffset="0"/>
</g>
<clipPath id="cl2"><rect x="850" y="998" width="14" height="16"/></clipPath><g clip-path="url(#cl2)">
<line x1="857" y1="1000.5" x2="857" y2="1012" stroke="#fff" stroke-width="4.2" stroke-linecap="round"/>
<line x1="857" y1="889" x2="857" y2="1012" stroke="#7c7c7c" stroke-width="1.15" stroke-dasharray="31 4.5" stroke-dashoffset="0"/>
</g>
<clipPath id="cl3"><rect x="975" y="955.5" width="14" height="38"/></clipPath><g clip-path="url(#cl3)">
<line x1="982.4" y1="958.2" x2="982.4" y2="967.5" stroke="#fff" stroke-width="4.2" stroke-linecap="round"/>
<line x1="982.4" y1="948.5" x2="982.4" y2="1027" stroke="#7c7c7c" stroke-width="1.15" stroke-dasharray="8 4.5 29 4.5 40 4.5" stroke-dashoffset="0"/>
</g>
<clipPath id="cl4"><rect x="975" y="1013.5" width="14" height="15.5"/></clipPath><g clip-path="url(#cl4)">
<line x1="982.4" y1="1016" x2="982.4" y2="1027" stroke="#fff" stroke-width="4.2" stroke-linecap="round"/>
<line x1="982.4" y1="948.5" x2="982.4" y2="1027" stroke="#7c7c7c" stroke-width="1.15" stroke-dasharray="8 4.5 29 4.5 40 4.5" stroke-dashoffset="0"/>
</g>
<line x1="669" y1="268" x2="749" y2="336" stroke="#868686" stroke-width="1.1"/>
<text x="654.3" y="262" font-size="20.7" text-anchor="middle" fill="#000">403</text>
<line x1="1259" y1="297.6" x2="1365.7" y2="312" stroke="#868686" stroke-width="1.1"/>
<text x="1391" y="322" font-size="20.7" text-anchor="middle" fill="#000">405</text>
<line x1="1367.9" y1="433.6" x2="1454.8" y2="453" stroke="#868686" stroke-width="1.1"/>
<text x="1479" y="464" font-size="20.7" text-anchor="middle" fill="#000">405</text>
<line x1="466" y1="418" x2="543" y2="471" stroke="#868686" stroke-width="1.1"/>
<text x="452.5" y="413" font-size="20.7" text-anchor="middle" fill="#000">408</text>
<line x1="468" y1="532" x2="561" y2="587" stroke="#868686" stroke-width="1.1"/>
<text x="453.5" y="527" font-size="20.7" text-anchor="middle" fill="#000">404</text>
<line x1="365" y1="685" x2="481.5" y2="711" stroke="#868686" stroke-width="1.1"/>
<text x="335.2" y="685.5" font-size="20.7" text-anchor="middle" fill="#000">405</text>
<line x1="528.8" y1="800" x2="610.2" y2="818.2" stroke="#868686" stroke-width="1.1"/>
<text x="499.3" y="801" font-size="20.7" text-anchor="middle" fill="#000">405</text>
<line x1="1480" y1="635.7" x2="1601" y2="623" stroke="#868686" stroke-width="1.1"/>
<text x="1627" y="628" font-size="20.7" text-anchor="middle" fill="#000">406</text>
<line x1="1628.6" y1="759.6" x2="1746" y2="746.8" stroke="#868686" stroke-width="1.1"/>
<text x="1772" y="752.3" font-size="20.7" text-anchor="middle" fill="#000">406</text>
<line x1="1362" y1="846" x2="1471" y2="839.7" stroke="#868686" stroke-width="1.1"/>
<text x="1497" y="845.8" font-size="20.7" text-anchor="middle" fill="#000">406</text>
<line x1="1028.6" y1="994" x2="1125.9" y2="1045" stroke="#868686" stroke-width="1.1"/>
<text x="1154.2" y="1065.3" font-size="20.7" text-anchor="middle" fill="#000">410</text>
<line x1="1022" y1="1074.7" x2="1116.2" y2="1123.8" stroke="#868686" stroke-width="1.1"/>
<text x="1143.5" y="1136" font-size="20.7" text-anchor="middle" fill="#000">409</text>
</svg>
<div class="hd" style="left:135px;top:68.9px;">CYLINDER / CILINDRO</div>
<div class="hd" style="left:1012.6px;top:68.9px;">-</div>
<div class="hd" style="left:1581.3px;top:68.9px;">NOT SOLD SEPARATELY</div>
<div class="ft" style="left:136px;top:1313px;">30056993</div>
<div class="ft" style="left:986.3px;top:1313px;">20</div>
<div class="big" style="left:80px;top:1265.5px;">by AtlasCopco</div>
</body></html>
